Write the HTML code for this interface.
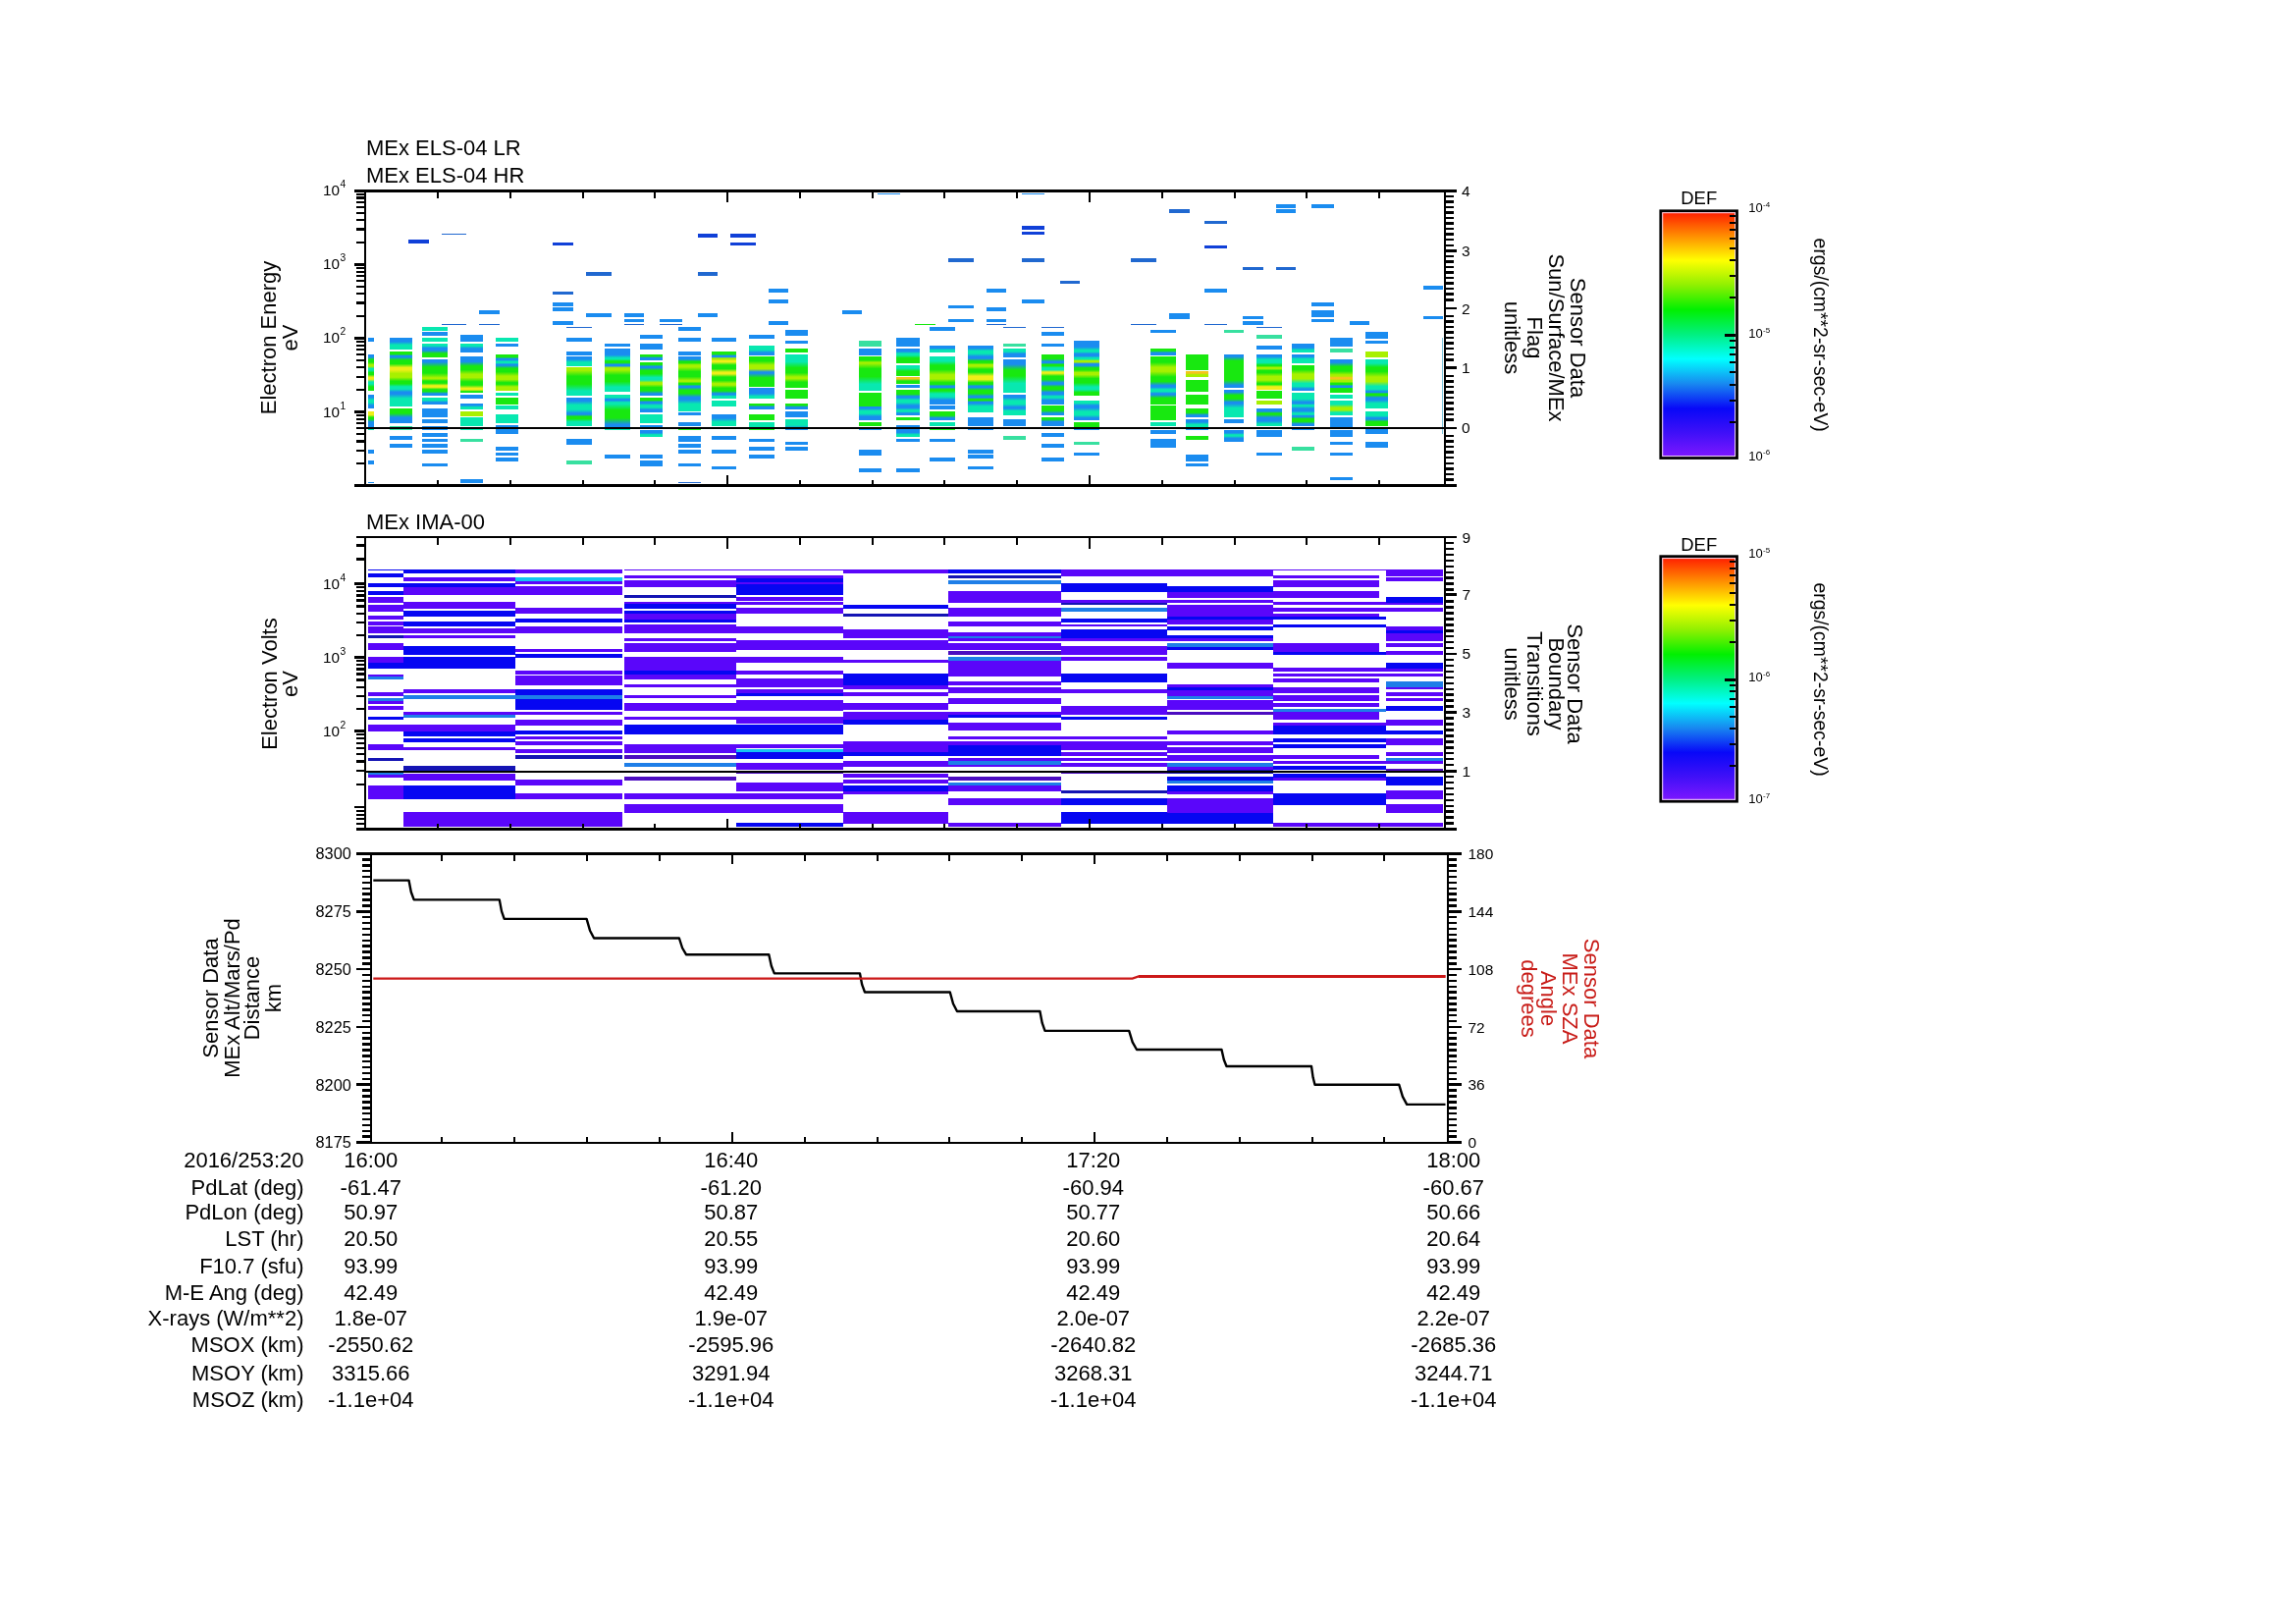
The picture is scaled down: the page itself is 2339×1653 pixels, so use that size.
<!DOCTYPE html>
<html><head><meta charset="utf-8"><title>MEx ELS / IMA summary plot</title>
<style>
html,body{margin:0;padding:0;background:#fff;}
body{width:2339px;height:1653px;overflow:hidden;font-family:"Liberation Sans", sans-serif;}
svg{display:block;}
</style></head><body>
<svg width="2339" height="1653" viewBox="0 0 2339 1653" font-family='"Liberation Sans", sans-serif'>
<defs>
<linearGradient id="cb" x1="0" y1="0" x2="0" y2="1">
<stop offset="0" stop-color="#ff1800"/>
<stop offset="0.10" stop-color="#ff8c00"/>
<stop offset="0.20" stop-color="#ffff00"/>
<stop offset="0.30" stop-color="#90f000"/>
<stop offset="0.40" stop-color="#00f000"/>
<stop offset="0.50" stop-color="#00f080"/>
<stop offset="0.60" stop-color="#00ffff"/>
<stop offset="0.70" stop-color="#1888f0"/>
<stop offset="0.80" stop-color="#0808f8"/>
<stop offset="0.90" stop-color="#4010f8"/>
<stop offset="1" stop-color="#8018ff"/>
</linearGradient>
<linearGradient id="g0" x1="0" y1="0" x2="0" y2="1"><stop offset="0.027" stop-color="#1a8cf0"/><stop offset="0.071" stop-color="#1a8cf0"/><stop offset="0.141" stop-color="#18e810"/><stop offset="0.209" stop-color="#18e810"/><stop offset="0.281" stop-color="#a8f000"/><stop offset="0.327" stop-color="#a8f000"/><stop offset="0.385" stop-color="#08e8b0"/><stop offset="0.430" stop-color="#08e8b0"/><stop offset="0.495" stop-color="#18e810"/><stop offset="0.552" stop-color="#18e810"/><stop offset="0.624" stop-color="#f0ee18"/><stop offset="0.680" stop-color="#f0ee18"/><stop offset="0.753" stop-color="#08e8b0"/><stop offset="0.809" stop-color="#08e8b0"/><stop offset="0.889" stop-color="#18e810"/><stop offset="0.957" stop-color="#18e810"/></linearGradient><linearGradient id="g1" x1="0" y1="0" x2="0" y2="1"><stop offset="0.075" stop-color="#1a8cf0"/><stop offset="0.192" stop-color="#1a8cf0"/><stop offset="0.379" stop-color="#08e8b0"/><stop offset="0.555" stop-color="#08e8b0"/><stop offset="0.760" stop-color="#1a8cf0"/><stop offset="0.907" stop-color="#1a8cf0"/></linearGradient><linearGradient id="g2" x1="0" y1="0" x2="0" y2="1"><stop offset="0.087" stop-color="#f0ee18"/><stop offset="0.225" stop-color="#f0ee18"/><stop offset="0.383" stop-color="#18e810"/><stop offset="0.493" stop-color="#18e810"/><stop offset="0.685" stop-color="#1a8cf0"/><stop offset="0.878" stop-color="#1a8cf0"/></linearGradient><linearGradient id="g3" x1="0" y1="0" x2="0" y2="1"><stop offset="0.135" stop-color="#1a8cf0"/><stop offset="0.348" stop-color="#1a8cf0"/><stop offset="0.628" stop-color="#08e8b0"/><stop offset="0.855" stop-color="#08e8b0"/></linearGradient><linearGradient id="g4" x1="0" y1="0" x2="0" y2="1"><stop offset="0.019" stop-color="#18e810"/><stop offset="0.049" stop-color="#18e810"/><stop offset="0.081" stop-color="#1a8cf0"/><stop offset="0.101" stop-color="#1a8cf0"/><stop offset="0.157" stop-color="#18e810"/><stop offset="0.225" stop-color="#18e810"/><stop offset="0.294" stop-color="#f0ee18"/><stop offset="0.335" stop-color="#f0ee18"/><stop offset="0.404" stop-color="#a8f000"/><stop offset="0.472" stop-color="#a8f000"/><stop offset="0.544" stop-color="#18e810"/><stop offset="0.590" stop-color="#18e810"/><stop offset="0.645" stop-color="#08e8b0"/><stop offset="0.688" stop-color="#08e8b0"/><stop offset="0.740" stop-color="#1a8cf0"/><stop offset="0.779" stop-color="#1a8cf0"/><stop offset="0.859" stop-color="#08e8b0"/><stop offset="0.945" stop-color="#08e8b0"/></linearGradient><linearGradient id="g5" x1="0" y1="0" x2="0" y2="1"><stop offset="0.135" stop-color="#18e810"/><stop offset="0.346" stop-color="#18e810"/><stop offset="0.626" stop-color="#1a8cf0"/><stop offset="0.855" stop-color="#1a8cf0"/></linearGradient><linearGradient id="g6" x1="0" y1="0" x2="0" y2="1"><stop offset="0.058" stop-color="#08e8b0"/><stop offset="0.150" stop-color="#08e8b0"/><stop offset="0.325" stop-color="#1a8cf0"/><stop offset="0.508" stop-color="#1a8cf0"/><stop offset="0.730" stop-color="#18e810"/><stop offset="0.895" stop-color="#18e810"/></linearGradient><linearGradient id="g7" x1="0" y1="0" x2="0" y2="1"><stop offset="0.030" stop-color="#1a8cf0"/><stop offset="0.078" stop-color="#1a8cf0"/><stop offset="0.215" stop-color="#18e810"/><stop offset="0.381" stop-color="#18e810"/><stop offset="0.507" stop-color="#a8f000"/><stop offset="0.539" stop-color="#a8f000"/><stop offset="0.599" stop-color="#18e810"/><stop offset="0.660" stop-color="#18e810"/><stop offset="0.727" stop-color="#f0ee18"/><stop offset="0.770" stop-color="#f0ee18"/><stop offset="0.834" stop-color="#18e810"/><stop offset="0.891" stop-color="#18e810"/><stop offset="0.948" stop-color="#1a8cf0"/><stop offset="0.980" stop-color="#1a8cf0"/></linearGradient><linearGradient id="g8" x1="0" y1="0" x2="0" y2="1"><stop offset="0.152" stop-color="#08e8b0"/><stop offset="0.391" stop-color="#08e8b0"/><stop offset="0.671" stop-color="#1a8cf0"/><stop offset="0.872" stop-color="#1a8cf0"/></linearGradient><linearGradient id="g9" x1="0" y1="0" x2="0" y2="1"><stop offset="0.101" stop-color="#08e8b0"/><stop offset="0.260" stop-color="#08e8b0"/><stop offset="0.540" stop-color="#1a8cf0"/><stop offset="0.821" stop-color="#1a8cf0"/></linearGradient><linearGradient id="g10" x1="0" y1="0" x2="0" y2="1"><stop offset="0.056" stop-color="#1a8cf0"/><stop offset="0.145" stop-color="#1a8cf0"/><stop offset="0.266" stop-color="#18e810"/><stop offset="0.368" stop-color="#18e810"/><stop offset="0.491" stop-color="#a8f000"/><stop offset="0.581" stop-color="#a8f000"/><stop offset="0.697" stop-color="#18e810"/><stop offset="0.788" stop-color="#18e810"/><stop offset="0.874" stop-color="#f0ee18"/><stop offset="0.920" stop-color="#f0ee18"/><stop offset="0.963" stop-color="#18e810"/><stop offset="0.986" stop-color="#18e810"/></linearGradient><linearGradient id="g11" x1="0" y1="0" x2="0" y2="1"><stop offset="0.127" stop-color="#1a8cf0"/><stop offset="0.327" stop-color="#1a8cf0"/><stop offset="0.607" stop-color="#08e8b0"/><stop offset="0.847" stop-color="#08e8b0"/></linearGradient><linearGradient id="g12" x1="0" y1="0" x2="0" y2="1"><stop offset="0.029" stop-color="#18e810"/><stop offset="0.074" stop-color="#18e810"/><stop offset="0.121" stop-color="#1a8cf0"/><stop offset="0.151" stop-color="#1a8cf0"/><stop offset="0.194" stop-color="#08e8b0"/><stop offset="0.232" stop-color="#08e8b0"/><stop offset="0.275" stop-color="#1a8cf0"/><stop offset="0.304" stop-color="#1a8cf0"/><stop offset="0.383" stop-color="#18e810"/><stop offset="0.478" stop-color="#18e810"/><stop offset="0.596" stop-color="#a8f000"/><stop offset="0.686" stop-color="#a8f000"/><stop offset="0.772" stop-color="#18e810"/><stop offset="0.817" stop-color="#18e810"/><stop offset="0.889" stop-color="#a8f000"/><stop offset="0.957" stop-color="#a8f000"/></linearGradient><linearGradient id="g13" x1="0" y1="0" x2="0" y2="1"><stop offset="0.114" stop-color="#1a8cf0"/><stop offset="0.293" stop-color="#1a8cf0"/><stop offset="0.573" stop-color="#08e8b0"/><stop offset="0.834" stop-color="#08e8b0"/></linearGradient><linearGradient id="g14" x1="0" y1="0" x2="0" y2="1"><stop offset="0.037" stop-color="#a8f000"/><stop offset="0.096" stop-color="#a8f000"/><stop offset="0.311" stop-color="#18e810"/><stop offset="0.589" stop-color="#18e810"/><stop offset="0.832" stop-color="#08e8b0"/><stop offset="0.935" stop-color="#08e8b0"/></linearGradient><linearGradient id="g15" x1="0" y1="0" x2="0" y2="1"><stop offset="0.045" stop-color="#1a8cf0"/><stop offset="0.116" stop-color="#1a8cf0"/><stop offset="0.261" stop-color="#08e8b0"/><stop offset="0.417" stop-color="#08e8b0"/><stop offset="0.543" stop-color="#1a8cf0"/><stop offset="0.586" stop-color="#1a8cf0"/><stop offset="0.658" stop-color="#18e810"/><stop offset="0.729" stop-color="#18e810"/><stop offset="0.837" stop-color="#08e8b0"/><stop offset="0.937" stop-color="#08e8b0"/></linearGradient><linearGradient id="g16" x1="0" y1="0" x2="0" y2="1"><stop offset="0.055" stop-color="#1a8cf0"/><stop offset="0.141" stop-color="#1a8cf0"/><stop offset="0.214" stop-color="#08e8b0"/><stop offset="0.243" stop-color="#08e8b0"/><stop offset="0.285" stop-color="#18e810"/><stop offset="0.323" stop-color="#18e810"/><stop offset="0.366" stop-color="#1a8cf0"/><stop offset="0.395" stop-color="#1a8cf0"/><stop offset="0.443" stop-color="#a8f000"/><stop offset="0.491" stop-color="#a8f000"/><stop offset="0.613" stop-color="#18e810"/><stop offset="0.757" stop-color="#18e810"/><stop offset="0.890" stop-color="#08e8b0"/><stop offset="0.957" stop-color="#08e8b0"/></linearGradient><linearGradient id="g17" x1="0" y1="0" x2="0" y2="1"><stop offset="0.032" stop-color="#08e8b0"/><stop offset="0.082" stop-color="#08e8b0"/><stop offset="0.138" stop-color="#1a8cf0"/><stop offset="0.176" stop-color="#1a8cf0"/><stop offset="0.232" stop-color="#08e8b0"/><stop offset="0.282" stop-color="#08e8b0"/><stop offset="0.469" stop-color="#18e810"/><stop offset="0.713" stop-color="#18e810"/><stop offset="0.905" stop-color="#1a8cf0"/><stop offset="0.963" stop-color="#1a8cf0"/></linearGradient><linearGradient id="g18" x1="0" y1="0" x2="0" y2="1"><stop offset="0.140" stop-color="#18e810"/><stop offset="0.360" stop-color="#18e810"/><stop offset="0.640" stop-color="#1a8cf0"/><stop offset="0.860" stop-color="#1a8cf0"/></linearGradient><linearGradient id="g19" x1="0" y1="0" x2="0" y2="1"><stop offset="0.028" stop-color="#18e810"/><stop offset="0.073" stop-color="#18e810"/><stop offset="0.125" stop-color="#1a8cf0"/><stop offset="0.162" stop-color="#1a8cf0"/><stop offset="0.248" stop-color="#18e810"/><stop offset="0.347" stop-color="#18e810"/><stop offset="0.457" stop-color="#08e8b0"/><stop offset="0.531" stop-color="#08e8b0"/><stop offset="0.610" stop-color="#a8f000"/><stop offset="0.660" stop-color="#a8f000"/><stop offset="0.754" stop-color="#18e810"/><stop offset="0.853" stop-color="#18e810"/><stop offset="0.939" stop-color="#1a8cf0"/><stop offset="0.976" stop-color="#1a8cf0"/></linearGradient><linearGradient id="g20" x1="0" y1="0" x2="0" y2="1"><stop offset="0.072" stop-color="#18e810"/><stop offset="0.185" stop-color="#18e810"/><stop offset="0.310" stop-color="#1a8cf0"/><stop offset="0.395" stop-color="#1a8cf0"/><stop offset="0.538" stop-color="#08e8b0"/><stop offset="0.679" stop-color="#08e8b0"/><stop offset="0.834" stop-color="#1a8cf0"/><stop offset="0.935" stop-color="#1a8cf0"/></linearGradient><linearGradient id="g21" x1="0" y1="0" x2="0" y2="1"><stop offset="0.160" stop-color="#1a8cf0"/><stop offset="0.411" stop-color="#1a8cf0"/><stop offset="0.691" stop-color="#08e8b0"/><stop offset="0.880" stop-color="#08e8b0"/></linearGradient><linearGradient id="g22" x1="0" y1="0" x2="0" y2="1"><stop offset="0.021" stop-color="#1a8cf0"/><stop offset="0.054" stop-color="#1a8cf0"/><stop offset="0.091" stop-color="#18e810"/><stop offset="0.116" stop-color="#18e810"/><stop offset="0.156" stop-color="#a8f000"/><stop offset="0.194" stop-color="#a8f000"/><stop offset="0.275" stop-color="#18e810"/><stop offset="0.365" stop-color="#18e810"/><stop offset="0.436" stop-color="#a8f000"/><stop offset="0.459" stop-color="#a8f000"/><stop offset="0.487" stop-color="#18e810"/><stop offset="0.510" stop-color="#18e810"/><stop offset="0.538" stop-color="#1a8cf0"/><stop offset="0.561" stop-color="#1a8cf0"/><stop offset="0.613" stop-color="#18e810"/><stop offset="0.673" stop-color="#18e810"/><stop offset="0.739" stop-color="#1a8cf0"/><stop offset="0.784" stop-color="#1a8cf0"/><stop offset="0.865" stop-color="#08e8b0"/><stop offset="0.948" stop-color="#08e8b0"/></linearGradient><linearGradient id="g23" x1="0" y1="0" x2="0" y2="1"><stop offset="0.022" stop-color="#18e810"/><stop offset="0.058" stop-color="#18e810"/><stop offset="0.093" stop-color="#1a8cf0"/><stop offset="0.115" stop-color="#1a8cf0"/><stop offset="0.143" stop-color="#a8f000"/><stop offset="0.165" stop-color="#a8f000"/><stop offset="0.197" stop-color="#f0ee18"/><stop offset="0.223" stop-color="#f0ee18"/><stop offset="0.290" stop-color="#18e810"/><stop offset="0.370" stop-color="#18e810"/><stop offset="0.442" stop-color="#f0ee18"/><stop offset="0.478" stop-color="#f0ee18"/><stop offset="0.545" stop-color="#18e810"/><stop offset="0.615" stop-color="#18e810"/><stop offset="0.682" stop-color="#a8f000"/><stop offset="0.718" stop-color="#a8f000"/><stop offset="0.779" stop-color="#18e810"/><stop offset="0.841" stop-color="#18e810"/><stop offset="0.897" stop-color="#1a8cf0"/><stop offset="0.923" stop-color="#1a8cf0"/><stop offset="0.957" stop-color="#08e8b0"/><stop offset="0.983" stop-color="#08e8b0"/></linearGradient><linearGradient id="g24" x1="0" y1="0" x2="0" y2="1"><stop offset="0.129" stop-color="#1a8cf0"/><stop offset="0.332" stop-color="#1a8cf0"/><stop offset="0.612" stop-color="#08e8b0"/><stop offset="0.849" stop-color="#08e8b0"/></linearGradient><linearGradient id="g25" x1="0" y1="0" x2="0" y2="1"><stop offset="0.172" stop-color="#08e8b0"/><stop offset="0.443" stop-color="#08e8b0"/><stop offset="0.723" stop-color="#1a8cf0"/><stop offset="0.892" stop-color="#1a8cf0"/></linearGradient><linearGradient id="g26" x1="0" y1="0" x2="0" y2="1"><stop offset="0.058" stop-color="#18e810"/><stop offset="0.149" stop-color="#18e810"/><stop offset="0.284" stop-color="#a8f000"/><stop offset="0.405" stop-color="#a8f000"/><stop offset="0.507" stop-color="#1a8cf0"/><stop offset="0.548" stop-color="#1a8cf0"/><stop offset="0.693" stop-color="#18e810"/><stop offset="0.880" stop-color="#18e810"/></linearGradient><linearGradient id="g27" x1="0" y1="0" x2="0" y2="1"><stop offset="0.204" stop-color="#1a8cf0"/><stop offset="0.524" stop-color="#1a8cf0"/><stop offset="0.804" stop-color="#08e8b0"/><stop offset="0.924" stop-color="#08e8b0"/></linearGradient><linearGradient id="g28" x1="0" y1="0" x2="0" y2="1"><stop offset="0.117" stop-color="#18e810"/><stop offset="0.302" stop-color="#18e810"/><stop offset="0.582" stop-color="#1a8cf0"/><stop offset="0.837" stop-color="#1a8cf0"/></linearGradient><linearGradient id="g29" x1="0" y1="0" x2="0" y2="1"><stop offset="0.215" stop-color="#08e8b0"/><stop offset="0.553" stop-color="#08e8b0"/><stop offset="0.833" stop-color="#18e810"/><stop offset="0.935" stop-color="#18e810"/></linearGradient><linearGradient id="g30" x1="0" y1="0" x2="0" y2="1"><stop offset="0.086" stop-color="#08e8b0"/><stop offset="0.220" stop-color="#08e8b0"/><stop offset="0.399" stop-color="#18e810"/><stop offset="0.546" stop-color="#18e810"/><stop offset="0.670" stop-color="#a8f000"/><stop offset="0.719" stop-color="#a8f000"/><stop offset="0.820" stop-color="#18e810"/><stop offset="0.930" stop-color="#18e810"/></linearGradient><linearGradient id="g31" x1="0" y1="0" x2="0" y2="1"><stop offset="0.135" stop-color="#18e810"/><stop offset="0.348" stop-color="#18e810"/><stop offset="0.628" stop-color="#1a8cf0"/><stop offset="0.855" stop-color="#1a8cf0"/></linearGradient><linearGradient id="g32" x1="0" y1="0" x2="0" y2="1"><stop offset="0.210" stop-color="#08e8b0"/><stop offset="0.540" stop-color="#08e8b0"/><stop offset="0.820" stop-color="#1a8cf0"/><stop offset="0.930" stop-color="#1a8cf0"/></linearGradient><linearGradient id="g33" x1="0" y1="0" x2="0" y2="1"><stop offset="0.044" stop-color="#18e810"/><stop offset="0.113" stop-color="#18e810"/><stop offset="0.173" stop-color="#a8f000"/><stop offset="0.197" stop-color="#a8f000"/><stop offset="0.357" stop-color="#18e810"/><stop offset="0.584" stop-color="#18e810"/><stop offset="0.804" stop-color="#08e8b0"/><stop offset="0.924" stop-color="#08e8b0"/></linearGradient><linearGradient id="g34" x1="0" y1="0" x2="0" y2="1"><stop offset="0.061" stop-color="#1a8cf0"/><stop offset="0.158" stop-color="#1a8cf0"/><stop offset="0.342" stop-color="#08e8b0"/><stop offset="0.535" stop-color="#08e8b0"/><stop offset="0.753" stop-color="#1a8cf0"/><stop offset="0.904" stop-color="#1a8cf0"/></linearGradient><linearGradient id="g35" x1="0" y1="0" x2="0" y2="1"><stop offset="0.075" stop-color="#1a8cf0"/><stop offset="0.192" stop-color="#1a8cf0"/><stop offset="0.341" stop-color="#08e8b0"/><stop offset="0.459" stop-color="#08e8b0"/><stop offset="0.664" stop-color="#18e810"/><stop offset="0.869" stop-color="#18e810"/></linearGradient><linearGradient id="g36" x1="0" y1="0" x2="0" y2="1"><stop offset="0.111" stop-color="#08e8b0"/><stop offset="0.286" stop-color="#08e8b0"/><stop offset="0.566" stop-color="#18e810"/><stop offset="0.831" stop-color="#18e810"/></linearGradient><linearGradient id="g37" x1="0" y1="0" x2="0" y2="1"><stop offset="0.105" stop-color="#f4c41c"/><stop offset="0.270" stop-color="#f4c41c"/><stop offset="0.550" stop-color="#18e810"/><stop offset="0.825" stop-color="#18e810"/></linearGradient><linearGradient id="g38" x1="0" y1="0" x2="0" y2="1"><stop offset="0.063" stop-color="#18e810"/><stop offset="0.162" stop-color="#18e810"/><stop offset="0.257" stop-color="#1a8cf0"/><stop offset="0.307" stop-color="#1a8cf0"/><stop offset="0.402" stop-color="#08e8b0"/><stop offset="0.501" stop-color="#08e8b0"/><stop offset="0.623" stop-color="#1a8cf0"/><stop offset="0.715" stop-color="#1a8cf0"/><stop offset="0.810" stop-color="#08e8b0"/><stop offset="0.866" stop-color="#08e8b0"/><stop offset="0.930" stop-color="#1a8cf0"/><stop offset="0.973" stop-color="#1a8cf0"/></linearGradient><linearGradient id="g39" x1="0" y1="0" x2="0" y2="1"><stop offset="0.187" stop-color="#1a8cf0"/><stop offset="0.480" stop-color="#1a8cf0"/><stop offset="0.760" stop-color="#08e8b0"/><stop offset="0.907" stop-color="#08e8b0"/></linearGradient><linearGradient id="g40" x1="0" y1="0" x2="0" y2="1"><stop offset="0.151" stop-color="#1a8cf0"/><stop offset="0.389" stop-color="#1a8cf0"/><stop offset="0.669" stop-color="#08e8b0"/><stop offset="0.871" stop-color="#08e8b0"/></linearGradient><linearGradient id="g41" x1="0" y1="0" x2="0" y2="1"><stop offset="0.037" stop-color="#08e8b0"/><stop offset="0.096" stop-color="#08e8b0"/><stop offset="0.187" stop-color="#18e810"/><stop offset="0.273" stop-color="#18e810"/><stop offset="0.383" stop-color="#a8f000"/><stop offset="0.469" stop-color="#a8f000"/><stop offset="0.545" stop-color="#18e810"/><stop offset="0.580" stop-color="#18e810"/><stop offset="0.618" stop-color="#1a8cf0"/><stop offset="0.644" stop-color="#1a8cf0"/><stop offset="0.682" stop-color="#18e810"/><stop offset="0.716" stop-color="#18e810"/><stop offset="0.777" stop-color="#08e8b0"/><stop offset="0.837" stop-color="#08e8b0"/><stop offset="0.910" stop-color="#1a8cf0"/><stop offset="0.965" stop-color="#1a8cf0"/></linearGradient><linearGradient id="g42" x1="0" y1="0" x2="0" y2="1"><stop offset="0.191" stop-color="#18e810"/><stop offset="0.490" stop-color="#18e810"/><stop offset="0.770" stop-color="#1a8cf0"/><stop offset="0.911" stop-color="#1a8cf0"/></linearGradient><linearGradient id="g43" x1="0" y1="0" x2="0" y2="1"><stop offset="0.016" stop-color="#1a8cf0"/><stop offset="0.041" stop-color="#1a8cf0"/><stop offset="0.082" stop-color="#08e8b0"/><stop offset="0.121" stop-color="#08e8b0"/><stop offset="0.166" stop-color="#1a8cf0"/><stop offset="0.197" stop-color="#1a8cf0"/><stop offset="0.233" stop-color="#18e810"/><stop offset="0.257" stop-color="#18e810"/><stop offset="0.289" stop-color="#a8f000"/><stop offset="0.314" stop-color="#a8f000"/><stop offset="0.357" stop-color="#18e810"/><stop offset="0.401" stop-color="#18e810"/><stop offset="0.460" stop-color="#f0ee18"/><stop offset="0.509" stop-color="#f0ee18"/><stop offset="0.557" stop-color="#18e810"/><stop offset="0.581" stop-color="#18e810"/><stop offset="0.609" stop-color="#1a8cf0"/><stop offset="0.628" stop-color="#1a8cf0"/><stop offset="0.671" stop-color="#18e810"/><stop offset="0.721" stop-color="#18e810"/><stop offset="0.764" stop-color="#1a8cf0"/><stop offset="0.783" stop-color="#1a8cf0"/><stop offset="0.806" stop-color="#18e810"/><stop offset="0.825" stop-color="#18e810"/><stop offset="0.848" stop-color="#1a8cf0"/><stop offset="0.867" stop-color="#1a8cf0"/><stop offset="0.913" stop-color="#08e8b0"/><stop offset="0.966" stop-color="#08e8b0"/></linearGradient><linearGradient id="g44" x1="0" y1="0" x2="0" y2="1"><stop offset="0.124" stop-color="#08e8b0"/><stop offset="0.320" stop-color="#08e8b0"/><stop offset="0.600" stop-color="#1a8cf0"/><stop offset="0.844" stop-color="#1a8cf0"/></linearGradient><linearGradient id="g45" x1="0" y1="0" x2="0" y2="1"><stop offset="0.057" stop-color="#1a8cf0"/><stop offset="0.146" stop-color="#1a8cf0"/><stop offset="0.316" stop-color="#18e810"/><stop offset="0.493" stop-color="#18e810"/><stop offset="0.717" stop-color="#08e8b0"/><stop offset="0.890" stop-color="#08e8b0"/></linearGradient><linearGradient id="g46" x1="0" y1="0" x2="0" y2="1"><stop offset="0.052" stop-color="#1a8cf0"/><stop offset="0.133" stop-color="#1a8cf0"/><stop offset="0.294" stop-color="#08e8b0"/><stop offset="0.465" stop-color="#08e8b0"/><stop offset="0.616" stop-color="#1a8cf0"/><stop offset="0.681" stop-color="#1a8cf0"/><stop offset="0.800" stop-color="#08e8b0"/><stop offset="0.922" stop-color="#08e8b0"/></linearGradient><linearGradient id="g47" x1="0" y1="0" x2="0" y2="1"><stop offset="0.035" stop-color="#18e810"/><stop offset="0.089" stop-color="#18e810"/><stop offset="0.141" stop-color="#1a8cf0"/><stop offset="0.169" stop-color="#1a8cf0"/><stop offset="0.203" stop-color="#18e810"/><stop offset="0.228" stop-color="#18e810"/><stop offset="0.270" stop-color="#08e8b0"/><stop offset="0.311" stop-color="#08e8b0"/><stop offset="0.353" stop-color="#f0ee18"/><stop offset="0.378" stop-color="#f0ee18"/><stop offset="0.435" stop-color="#18e810"/><stop offset="0.501" stop-color="#18e810"/><stop offset="0.564" stop-color="#1a8cf0"/><stop offset="0.597" stop-color="#1a8cf0"/><stop offset="0.649" stop-color="#18e810"/><stop offset="0.699" stop-color="#18e810"/><stop offset="0.757" stop-color="#1a8cf0"/><stop offset="0.798" stop-color="#1a8cf0"/><stop offset="0.840" stop-color="#08e8b0"/><stop offset="0.864" stop-color="#08e8b0"/><stop offset="0.914" stop-color="#1a8cf0"/><stop offset="0.966" stop-color="#1a8cf0"/></linearGradient><linearGradient id="g48" x1="0" y1="0" x2="0" y2="1"><stop offset="0.201" stop-color="#18e810"/><stop offset="0.516" stop-color="#18e810"/><stop offset="0.796" stop-color="#1a8cf0"/><stop offset="0.921" stop-color="#1a8cf0"/></linearGradient><linearGradient id="g49" x1="0" y1="0" x2="0" y2="1"><stop offset="0.089" stop-color="#18e810"/><stop offset="0.230" stop-color="#18e810"/><stop offset="0.510" stop-color="#1a8cf0"/><stop offset="0.809" stop-color="#1a8cf0"/></linearGradient><linearGradient id="g50" x1="0" y1="0" x2="0" y2="1"><stop offset="0.044" stop-color="#1a8cf0"/><stop offset="0.113" stop-color="#1a8cf0"/><stop offset="0.173" stop-color="#08e8b0"/><stop offset="0.199" stop-color="#08e8b0"/><stop offset="0.239" stop-color="#1a8cf0"/><stop offset="0.276" stop-color="#1a8cf0"/><stop offset="0.315" stop-color="#08e8b0"/><stop offset="0.337" stop-color="#08e8b0"/><stop offset="0.366" stop-color="#a8f000"/><stop offset="0.388" stop-color="#a8f000"/><stop offset="0.422" stop-color="#1a8cf0"/><stop offset="0.452" stop-color="#1a8cf0"/><stop offset="0.495" stop-color="#18e810"/><stop offset="0.532" stop-color="#18e810"/><stop offset="0.580" stop-color="#a8f000"/><stop offset="0.618" stop-color="#a8f000"/><stop offset="0.689" stop-color="#18e810"/><stop offset="0.765" stop-color="#18e810"/><stop offset="0.841" stop-color="#08e8b0"/><stop offset="0.886" stop-color="#08e8b0"/><stop offset="0.939" stop-color="#18e810"/><stop offset="0.976" stop-color="#18e810"/></linearGradient><linearGradient id="g51" x1="0" y1="0" x2="0" y2="1"><stop offset="0.053" stop-color="#08e8b0"/><stop offset="0.137" stop-color="#08e8b0"/><stop offset="0.265" stop-color="#1a8cf0"/><stop offset="0.382" stop-color="#1a8cf0"/><stop offset="0.569" stop-color="#08e8b0"/><stop offset="0.745" stop-color="#08e8b0"/><stop offset="0.897" stop-color="#1a8cf0"/><stop offset="0.960" stop-color="#1a8cf0"/></linearGradient><linearGradient id="g52" x1="0" y1="0" x2="0" y2="1"><stop offset="0.120" stop-color="#18e810"/><stop offset="0.309" stop-color="#18e810"/><stop offset="0.589" stop-color="#1a8cf0"/><stop offset="0.840" stop-color="#1a8cf0"/></linearGradient><linearGradient id="g53" x1="0" y1="0" x2="0" y2="1"><stop offset="0.049" stop-color="#18e810"/><stop offset="0.125" stop-color="#18e810"/><stop offset="0.228" stop-color="#a8f000"/><stop offset="0.315" stop-color="#a8f000"/><stop offset="0.431" stop-color="#18e810"/><stop offset="0.526" stop-color="#18e810"/><stop offset="0.609" stop-color="#1a8cf0"/><stop offset="0.643" stop-color="#1a8cf0"/><stop offset="0.693" stop-color="#08e8b0"/><stop offset="0.736" stop-color="#08e8b0"/><stop offset="0.780" stop-color="#1a8cf0"/><stop offset="0.806" stop-color="#1a8cf0"/><stop offset="0.872" stop-color="#18e810"/><stop offset="0.950" stop-color="#18e810"/></linearGradient><linearGradient id="g54" x1="0" y1="0" x2="0" y2="1"><stop offset="0.149" stop-color="#f4c41c"/><stop offset="0.383" stop-color="#f4c41c"/><stop offset="0.663" stop-color="#a8f000"/><stop offset="0.869" stop-color="#a8f000"/></linearGradient><linearGradient id="g55" x1="0" y1="0" x2="0" y2="1"><stop offset="0.191" stop-color="#18e810"/><stop offset="0.490" stop-color="#18e810"/><stop offset="0.770" stop-color="#1a8cf0"/><stop offset="0.911" stop-color="#1a8cf0"/></linearGradient><linearGradient id="g56" x1="0" y1="0" x2="0" y2="1"><stop offset="0.130" stop-color="#1a8cf0"/><stop offset="0.335" stop-color="#1a8cf0"/><stop offset="0.615" stop-color="#08e8b0"/><stop offset="0.850" stop-color="#08e8b0"/></linearGradient><linearGradient id="g57" x1="0" y1="0" x2="0" y2="1"><stop offset="0.027" stop-color="#1a8cf0"/><stop offset="0.069" stop-color="#1a8cf0"/><stop offset="0.196" stop-color="#18e810"/><stop offset="0.352" stop-color="#18e810"/><stop offset="0.579" stop-color="#18e810"/><stop offset="0.777" stop-color="#18e810"/><stop offset="0.931" stop-color="#1a8cf0"/><stop offset="0.973" stop-color="#1a8cf0"/></linearGradient><linearGradient id="g58" x1="0" y1="0" x2="0" y2="1"><stop offset="0.029" stop-color="#1a8cf0"/><stop offset="0.074" stop-color="#1a8cf0"/><stop offset="0.190" stop-color="#18e810"/><stop offset="0.327" stop-color="#18e810"/><stop offset="0.447" stop-color="#1a8cf0"/><stop offset="0.498" stop-color="#1a8cf0"/><stop offset="0.662" stop-color="#08e8b0"/><stop offset="0.869" stop-color="#08e8b0"/></linearGradient><linearGradient id="g59" x1="0" y1="0" x2="0" y2="1"><stop offset="0.093" stop-color="#1a8cf0"/><stop offset="0.240" stop-color="#1a8cf0"/><stop offset="0.403" stop-color="#08e8b0"/><stop offset="0.513" stop-color="#08e8b0"/><stop offset="0.700" stop-color="#1a8cf0"/><stop offset="0.883" stop-color="#1a8cf0"/></linearGradient><linearGradient id="g60" x1="0" y1="0" x2="0" y2="1"><stop offset="0.025" stop-color="#1a8cf0"/><stop offset="0.064" stop-color="#1a8cf0"/><stop offset="0.145" stop-color="#08e8b0"/><stop offset="0.233" stop-color="#08e8b0"/><stop offset="0.304" stop-color="#18e810"/><stop offset="0.327" stop-color="#18e810"/><stop offset="0.364" stop-color="#a8f000"/><stop offset="0.399" stop-color="#a8f000"/><stop offset="0.458" stop-color="#18e810"/><stop offset="0.516" stop-color="#18e810"/><stop offset="0.619" stop-color="#a8f000"/><stop offset="0.723" stop-color="#a8f000"/><stop offset="0.812" stop-color="#18e810"/><stop offset="0.846" stop-color="#18e810"/><stop offset="0.905" stop-color="#f0ee18"/><stop offset="0.963" stop-color="#f0ee18"/></linearGradient><linearGradient id="g61" x1="0" y1="0" x2="0" y2="1"><stop offset="0.066" stop-color="#1a8cf0"/><stop offset="0.169" stop-color="#1a8cf0"/><stop offset="0.279" stop-color="#18e810"/><stop offset="0.349" stop-color="#18e810"/><stop offset="0.519" stop-color="#1a8cf0"/><stop offset="0.715" stop-color="#1a8cf0"/><stop offset="0.885" stop-color="#08e8b0"/><stop offset="0.955" stop-color="#08e8b0"/></linearGradient><linearGradient id="g62" x1="0" y1="0" x2="0" y2="1"><stop offset="0.179" stop-color="#1a8cf0"/><stop offset="0.460" stop-color="#1a8cf0"/><stop offset="0.740" stop-color="#08e8b0"/><stop offset="0.899" stop-color="#08e8b0"/></linearGradient><linearGradient id="g63" x1="0" y1="0" x2="0" y2="1"><stop offset="0.106" stop-color="#1a8cf0"/><stop offset="0.272" stop-color="#1a8cf0"/><stop offset="0.552" stop-color="#08e8b0"/><stop offset="0.826" stop-color="#08e8b0"/></linearGradient><linearGradient id="g64" x1="0" y1="0" x2="0" y2="1"><stop offset="0.068" stop-color="#18e810"/><stop offset="0.175" stop-color="#18e810"/><stop offset="0.356" stop-color="#a8f000"/><stop offset="0.534" stop-color="#a8f000"/><stop offset="0.719" stop-color="#08e8b0"/><stop offset="0.832" stop-color="#08e8b0"/><stop offset="0.931" stop-color="#1a8cf0"/><stop offset="0.973" stop-color="#1a8cf0"/></linearGradient><linearGradient id="g65" x1="0" y1="0" x2="0" y2="1"><stop offset="0.071" stop-color="#08e8b0"/><stop offset="0.183" stop-color="#08e8b0"/><stop offset="0.281" stop-color="#1a8cf0"/><stop offset="0.323" stop-color="#1a8cf0"/><stop offset="0.371" stop-color="#08e8b0"/><stop offset="0.403" stop-color="#08e8b0"/><stop offset="0.471" stop-color="#1a8cf0"/><stop offset="0.546" stop-color="#1a8cf0"/><stop offset="0.617" stop-color="#08e8b0"/><stop offset="0.654" stop-color="#08e8b0"/><stop offset="0.694" stop-color="#1a8cf0"/><stop offset="0.719" stop-color="#1a8cf0"/><stop offset="0.785" stop-color="#18e810"/><stop offset="0.865" stop-color="#18e810"/><stop offset="0.939" stop-color="#1a8cf0"/><stop offset="0.976" stop-color="#1a8cf0"/></linearGradient><linearGradient id="g66" x1="0" y1="0" x2="0" y2="1"><stop offset="0.043" stop-color="#1a8cf0"/><stop offset="0.110" stop-color="#1a8cf0"/><stop offset="0.256" stop-color="#18e810"/><stop offset="0.417" stop-color="#18e810"/><stop offset="0.548" stop-color="#a8f000"/><stop offset="0.592" stop-color="#a8f000"/><stop offset="0.648" stop-color="#f4c41c"/><stop offset="0.692" stop-color="#f4c41c"/><stop offset="0.748" stop-color="#a8f000"/><stop offset="0.792" stop-color="#a8f000"/><stop offset="0.848" stop-color="#18e810"/><stop offset="0.892" stop-color="#18e810"/><stop offset="0.942" stop-color="#1a8cf0"/><stop offset="0.978" stop-color="#1a8cf0"/></linearGradient><linearGradient id="g67" x1="0" y1="0" x2="0" y2="1"><stop offset="0.108" stop-color="#08e8b0"/><stop offset="0.277" stop-color="#08e8b0"/><stop offset="0.492" stop-color="#a8f000"/><stop offset="0.662" stop-color="#a8f000"/><stop offset="0.834" stop-color="#08e8b0"/><stop offset="0.935" stop-color="#08e8b0"/></linearGradient><linearGradient id="g68" x1="0" y1="0" x2="0" y2="1"><stop offset="0.030" stop-color="#08e8b0"/><stop offset="0.077" stop-color="#08e8b0"/><stop offset="0.160" stop-color="#18e810"/><stop offset="0.243" stop-color="#18e810"/><stop offset="0.355" stop-color="#a8f000"/><stop offset="0.447" stop-color="#a8f000"/><stop offset="0.543" stop-color="#08e8b0"/><stop offset="0.602" stop-color="#08e8b0"/><stop offset="0.649" stop-color="#1a8cf0"/><stop offset="0.666" stop-color="#1a8cf0"/><stop offset="0.696" stop-color="#18e810"/><stop offset="0.726" stop-color="#18e810"/><stop offset="0.774" stop-color="#1a8cf0"/><stop offset="0.819" stop-color="#1a8cf0"/><stop offset="0.890" stop-color="#08e8b0"/><stop offset="0.957" stop-color="#08e8b0"/></linearGradient><linearGradient id="g69" x1="0" y1="0" x2="0" y2="1"><stop offset="0.109" stop-color="#08e8b0"/><stop offset="0.281" stop-color="#08e8b0"/><stop offset="0.444" stop-color="#1a8cf0"/><stop offset="0.530" stop-color="#1a8cf0"/><stop offset="0.701" stop-color="#18e810"/><stop offset="0.884" stop-color="#18e810"/></linearGradient>
</defs>
<rect width="2339" height="1653" fill="#fff"/>
<g shape-rendering="crispEdges">
<rect x="375.3" y="343.9" width="5.7" height="3.8" fill="#1a8cf0"/>
<rect x="375.3" y="361.1" width="5.7" height="37.0" fill="url(#g0)"/>
<rect x="375.3" y="402.0" width="5.7" height="14.3" fill="url(#g1)"/>
<rect x="375.3" y="419.2" width="5.7" height="15.3" fill="url(#g2)"/>
<rect x="375.3" y="436.3" width="5.7" height="1.9" fill="#08e8b0"/>
<rect x="375.3" y="457.9" width="5.7" height="3.6" fill="#1a8cf0"/>
<rect x="375.3" y="468.8" width="5.7" height="3.8" fill="#1a8cf0"/>
<rect x="375.3" y="490.8" width="5.7" height="1.0" fill="#1a8cf0"/>
<rect x="396.9" y="343.9" width="22.9" height="11.8" fill="url(#g3)"/>
<rect x="396.9" y="358.0" width="22.9" height="55.6" fill="url(#g4)"/>
<rect x="396.9" y="415.9" width="22.9" height="14.7" fill="url(#g5)"/>
<rect x="396.9" y="433.5" width="22.9" height="4.8" fill="#38e0a0"/>
<rect x="396.9" y="444.0" width="22.9" height="3.8" fill="#1a8cf0"/>
<rect x="396.9" y="452.0" width="22.9" height="3.8" fill="#1a8cf0"/>
<rect x="430.1" y="332.8" width="25.8" height="3.8" fill="#08e8b0"/>
<rect x="430.1" y="338.0" width="25.8" height="3.8" fill="#1a8cf0"/>
<rect x="430.1" y="343.9" width="25.8" height="3.8" fill="#08e8b0"/>
<rect x="430.1" y="350.0" width="25.8" height="13.7" fill="url(#g6)"/>
<rect x="430.1" y="365.9" width="25.8" height="36.9" fill="url(#g7)"/>
<rect x="430.1" y="405.2" width="25.8" height="6.7" fill="url(#g8)"/>
<rect x="430.1" y="415.9" width="25.8" height="9.0" fill="#1a8cf0"/>
<rect x="430.1" y="427.2" width="25.8" height="3.4" fill="#1a8cf0"/>
<rect x="430.1" y="433.5" width="25.8" height="4.8" fill="#1a8cf0"/>
<rect x="430.1" y="441.1" width="25.8" height="3.8" fill="#1a8cf0"/>
<rect x="430.1" y="446.8" width="25.8" height="3.2" fill="#1a8cf0"/>
<rect x="430.1" y="452.0" width="25.8" height="3.8" fill="#1a8cf0"/>
<rect x="430.1" y="457.9" width="25.8" height="3.8" fill="#1a8cf0"/>
<rect x="430.1" y="471.7" width="25.8" height="3.2" fill="#1a8cf0"/>
<rect x="469.0" y="341.0" width="22.9" height="6.7" fill="#1a8cf0"/>
<rect x="469.0" y="350.0" width="22.9" height="9.0" fill="url(#g9)"/>
<rect x="469.0" y="363.0" width="22.9" height="37.0" fill="url(#g10)"/>
<rect x="469.0" y="402.0" width="22.9" height="3.8" fill="#1a8cf0"/>
<rect x="469.0" y="410.9" width="22.9" height="6.3" fill="url(#g11)"/>
<rect x="469.0" y="418.6" width="22.9" height="5.3" fill="#a8f000"/>
<rect x="469.0" y="424.9" width="22.9" height="9.5" fill="#08e8b0"/>
<rect x="469.0" y="436.3" width="22.9" height="1.9" fill="#08e8b0"/>
<rect x="469.0" y="446.8" width="22.9" height="2.9" fill="#38e0a0"/>
<rect x="469.0" y="487.9" width="22.9" height="3.8" fill="#1a8cf0"/>
<rect x="504.9" y="343.9" width="23.1" height="3.8" fill="#08e8b0"/>
<rect x="504.9" y="350.0" width="23.1" height="2.9" fill="#1a8cf0"/>
<rect x="504.9" y="360.9" width="23.1" height="37.2" fill="url(#g12)"/>
<rect x="504.9" y="400.1" width="23.1" height="2.9" fill="#08e8b0"/>
<rect x="504.9" y="404.8" width="23.1" height="6.7" fill="#18e810"/>
<rect x="504.9" y="412.5" width="23.1" height="4.4" fill="#08e8b0"/>
<rect x="504.9" y="422.0" width="23.1" height="9.0" fill="#08e8b0"/>
<rect x="504.9" y="432.9" width="23.1" height="8.8" fill="#1a8cf0"/>
<rect x="504.9" y="454.9" width="23.1" height="3.8" fill="#1a8cf0"/>
<rect x="504.9" y="460.8" width="23.1" height="2.9" fill="#1a8cf0"/>
<rect x="504.9" y="465.9" width="23.1" height="3.8" fill="#1a8cf0"/>
<rect x="416.0" y="244.0" width="21.0" height="3.8" fill="#1040d8"/>
<rect x="450.1" y="238.1" width="24.8" height="0.6" fill="#2068d0"/>
<rect x="450.1" y="330.0" width="24.8" height="0.8" fill="#2068d0"/>
<rect x="487.9" y="316.0" width="21.0" height="3.8" fill="#1a8cf0"/>
<rect x="487.9" y="330.0" width="21.0" height="0.8" fill="#2068d0"/>
<rect x="563.0" y="246.7" width="21.0" height="2.9" fill="#1040d8"/>
<rect x="563.0" y="296.9" width="21.0" height="2.9" fill="#2068d0"/>
<rect x="563.0" y="308.0" width="21.0" height="3.8" fill="#1a8cf0"/>
<rect x="563.0" y="313.2" width="21.0" height="3.4" fill="#1a8cf0"/>
<rect x="563.0" y="326.9" width="21.0" height="4.0" fill="#1a8cf0"/>
<rect x="597.2" y="276.9" width="26.0" height="3.8" fill="#2068d0"/>
<rect x="597.2" y="319.1" width="26.0" height="3.6" fill="#1a8cf0"/>
<rect x="636.3" y="319.1" width="19.7" height="3.6" fill="#1a8cf0"/>
<rect x="636.3" y="325.0" width="19.7" height="2.9" fill="#1a8cf0"/>
<rect x="636.3" y="330.0" width="19.7" height="0.8" fill="#2068d0"/>
<rect x="577.1" y="332.8" width="26.0" height="0.8" fill="#2068d0"/>
<rect x="577.1" y="343.9" width="26.0" height="3.8" fill="#1a8cf0"/>
<rect x="577.1" y="358.0" width="26.0" height="3.8" fill="#1a8cf0"/>
<rect x="577.1" y="363.0" width="26.0" height="10.3" fill="url(#g13)"/>
<rect x="577.1" y="374.3" width="26.0" height="28.6" fill="url(#g14)"/>
<rect x="577.1" y="404.8" width="26.0" height="29.6" fill="url(#g15)"/>
<rect x="577.1" y="446.8" width="26.0" height="5.7" fill="#1a8cf0"/>
<rect x="577.1" y="468.8" width="26.0" height="3.8" fill="#38e0a0"/>
<rect x="616.1" y="350.0" width="25.8" height="2.9" fill="#1a8cf0"/>
<rect x="616.1" y="355.2" width="25.8" height="43.9" fill="url(#g16)"/>
<rect x="616.1" y="402.0" width="25.8" height="33.4" fill="url(#g17)"/>
<rect x="616.1" y="436.3" width="25.8" height="1.9" fill="#08e8b0"/>
<rect x="616.1" y="463.1" width="25.8" height="3.8" fill="#1a8cf0"/>
<rect x="652.0" y="341.0" width="22.9" height="3.6" fill="#1a8cf0"/>
<rect x="652.0" y="350.0" width="22.9" height="5.7" fill="#1a8cf0"/>
<rect x="652.0" y="360.9" width="22.9" height="5.7" fill="url(#g18)"/>
<rect x="652.0" y="368.9" width="22.9" height="34.0" fill="url(#g19)"/>
<rect x="652.0" y="404.8" width="22.9" height="14.9" fill="url(#g20)"/>
<rect x="652.0" y="422.0" width="22.9" height="9.0" fill="#08e8b0"/>
<rect x="652.0" y="432.9" width="22.9" height="2.5" fill="#1a8cf0"/>
<rect x="652.0" y="438.2" width="22.9" height="6.7" fill="url(#g21)"/>
<rect x="652.0" y="463.1" width="22.9" height="3.8" fill="#1a8cf0"/>
<rect x="652.0" y="468.8" width="22.9" height="6.1" fill="#1a8cf0"/>
<rect x="672.1" y="325.0" width="22.9" height="2.9" fill="#1a8cf0"/>
<rect x="672.1" y="330.0" width="22.9" height="0.8" fill="#2068d0"/>
<rect x="691.0" y="332.8" width="22.9" height="3.8" fill="#1a8cf0"/>
<rect x="691.0" y="343.9" width="22.9" height="3.8" fill="#1a8cf0"/>
<rect x="691.0" y="358.0" width="22.9" height="3.8" fill="#1a8cf0"/>
<rect x="691.0" y="363.0" width="22.9" height="56.1" fill="url(#g22)"/>
<rect x="691.0" y="420.1" width="22.9" height="2.9" fill="#1a8cf0"/>
<rect x="691.0" y="430.0" width="22.9" height="4.4" fill="#1a8cf0"/>
<rect x="691.0" y="436.3" width="22.9" height="1.9" fill="#18e810"/>
<rect x="691.0" y="444.0" width="22.9" height="5.7" fill="#1a8cf0"/>
<rect x="691.0" y="452.0" width="22.9" height="3.8" fill="#1a8cf0"/>
<rect x="691.0" y="457.9" width="22.9" height="3.8" fill="#1a8cf0"/>
<rect x="691.0" y="471.7" width="22.9" height="3.2" fill="#1a8cf0"/>
<rect x="691.0" y="491.1" width="22.9" height="0.6" fill="#2068d0"/>
<rect x="711.0" y="238.3" width="20.1" height="3.6" fill="#1040d8"/>
<rect x="711.0" y="276.9" width="20.1" height="3.8" fill="#2068d0"/>
<rect x="711.0" y="319.1" width="20.1" height="3.6" fill="#1a8cf0"/>
<rect x="725.0" y="343.9" width="25.0" height="3.8" fill="#1a8cf0"/>
<rect x="725.0" y="358.0" width="25.0" height="47.7" fill="url(#g23)"/>
<rect x="725.0" y="407.7" width="25.0" height="6.1" fill="#08e8b0"/>
<rect x="725.0" y="422.0" width="25.0" height="12.4" fill="url(#g24)"/>
<rect x="725.0" y="444.0" width="25.0" height="3.8" fill="#1a8cf0"/>
<rect x="725.0" y="457.9" width="25.0" height="3.8" fill="#1a8cf0"/>
<rect x="725.0" y="474.9" width="25.0" height="2.9" fill="#1a8cf0"/>
<rect x="744.1" y="238.3" width="25.8" height="3.6" fill="#1040d8"/>
<rect x="744.1" y="246.7" width="25.8" height="3.1" fill="#1040d8"/>
<rect x="763.0" y="341.0" width="26.0" height="3.6" fill="#1a8cf0"/>
<rect x="763.0" y="351.9" width="26.0" height="9.9" fill="url(#g25)"/>
<rect x="763.0" y="363.0" width="26.0" height="31.3" fill="url(#g26)"/>
<rect x="763.0" y="395.3" width="26.0" height="10.5" fill="url(#g27)"/>
<rect x="763.0" y="410.9" width="26.0" height="5.9" fill="url(#g28)"/>
<rect x="763.0" y="422.0" width="26.0" height="5.7" fill="#18e810"/>
<rect x="763.0" y="430.0" width="26.0" height="8.2" fill="url(#g29)"/>
<rect x="763.0" y="446.8" width="26.0" height="2.9" fill="#1a8cf0"/>
<rect x="763.0" y="454.9" width="26.0" height="3.8" fill="#1a8cf0"/>
<rect x="763.0" y="463.1" width="26.0" height="3.8" fill="#1a8cf0"/>
<rect x="783.2" y="294.1" width="19.7" height="3.4" fill="#1a8cf0"/>
<rect x="783.2" y="305.1" width="19.7" height="3.6" fill="#1a8cf0"/>
<rect x="783.2" y="326.9" width="19.7" height="4.0" fill="#1a8cf0"/>
<rect x="800.0" y="336.1" width="22.9" height="5.7" fill="#1a8cf0"/>
<rect x="800.0" y="347.0" width="22.9" height="2.7" fill="#1a8cf0"/>
<rect x="800.0" y="355.2" width="22.9" height="3.8" fill="#18e810"/>
<rect x="800.0" y="360.9" width="22.9" height="34.4" fill="url(#g30)"/>
<rect x="800.0" y="397.2" width="22.9" height="8.6" fill="#18e810"/>
<rect x="800.0" y="410.9" width="22.9" height="5.9" fill="url(#g31)"/>
<rect x="800.0" y="419.2" width="22.9" height="5.7" fill="#1a8cf0"/>
<rect x="800.0" y="426.8" width="22.9" height="11.5" fill="url(#g32)"/>
<rect x="800.0" y="449.7" width="22.9" height="3.2" fill="#1a8cf0"/>
<rect x="800.0" y="454.9" width="22.9" height="3.8" fill="#1a8cf0"/>
<rect x="858.1" y="316.0" width="20.1" height="3.8" fill="#1a8cf0"/>
<rect x="874.9" y="347.0" width="23.3" height="5.9" fill="#38e0a0"/>
<rect x="874.9" y="355.2" width="23.3" height="6.7" fill="#1a8cf0"/>
<rect x="874.9" y="363.0" width="23.3" height="35.1" fill="url(#g33)"/>
<rect x="874.9" y="400.1" width="23.3" height="13.4" fill="#18e810"/>
<rect x="874.9" y="413.8" width="23.3" height="13.9" fill="url(#g34)"/>
<rect x="874.9" y="430.0" width="23.3" height="3.8" fill="#18e810"/>
<rect x="874.9" y="436.3" width="23.3" height="1.9" fill="#1a8cf0"/>
<rect x="874.9" y="457.9" width="23.3" height="5.7" fill="#1a8cf0"/>
<rect x="874.9" y="477.0" width="23.3" height="3.6" fill="#1a8cf0"/>
<rect x="894.0" y="197.3" width="23.3" height="0.6" fill="#1a8cf0"/>
<rect x="913.1" y="343.9" width="24.1" height="9.0" fill="#1a8cf0"/>
<rect x="913.1" y="355.2" width="24.1" height="14.3" fill="url(#g35)"/>
<rect x="913.1" y="371.8" width="24.1" height="11.1" fill="url(#g36)"/>
<rect x="913.1" y="383.8" width="24.1" height="7.6" fill="url(#g37)"/>
<rect x="913.1" y="392.4" width="24.1" height="2.3" fill="#1a8cf0"/>
<rect x="913.1" y="397.2" width="24.1" height="25.4" fill="url(#g38)"/>
<rect x="913.1" y="424.9" width="24.1" height="2.9" fill="#18e810"/>
<rect x="913.1" y="432.9" width="24.1" height="2.5" fill="#1a8cf0"/>
<rect x="913.1" y="436.3" width="24.1" height="8.6" fill="url(#g39)"/>
<rect x="913.1" y="446.8" width="24.1" height="2.9" fill="#1a8cf0"/>
<rect x="913.1" y="477.0" width="24.1" height="3.6" fill="#1a8cf0"/>
<rect x="932.0" y="330.0" width="21.4" height="0.8" fill="#18e810"/>
<rect x="947.1" y="332.8" width="25.8" height="3.8" fill="#1a8cf0"/>
<rect x="947.1" y="351.9" width="25.8" height="7.1" fill="url(#g40)"/>
<rect x="947.1" y="363.0" width="25.8" height="48.9" fill="url(#g41)"/>
<rect x="947.1" y="412.9" width="25.8" height="4.0" fill="#1a8cf0"/>
<rect x="947.1" y="418.8" width="25.8" height="9.0" fill="url(#g42)"/>
<rect x="947.1" y="430.0" width="25.8" height="3.8" fill="#08e8b0"/>
<rect x="947.1" y="436.3" width="25.8" height="1.9" fill="#18e810"/>
<rect x="947.1" y="446.8" width="25.8" height="2.9" fill="#1a8cf0"/>
<rect x="947.1" y="465.9" width="25.8" height="3.8" fill="#1a8cf0"/>
<rect x="966.2" y="262.9" width="25.8" height="3.8" fill="#2068d0"/>
<rect x="966.2" y="310.9" width="25.8" height="2.9" fill="#1a8cf0"/>
<rect x="966.2" y="325.0" width="25.8" height="2.9" fill="#1a8cf0"/>
<rect x="986.1" y="351.9" width="26.0" height="67.8" fill="url(#g43)"/>
<rect x="986.1" y="424.9" width="26.0" height="9.5" fill="#1a8cf0"/>
<rect x="986.1" y="436.3" width="26.0" height="1.9" fill="#1a8cf0"/>
<rect x="986.1" y="457.9" width="26.0" height="3.8" fill="#1a8cf0"/>
<rect x="986.1" y="463.1" width="26.0" height="3.8" fill="#1a8cf0"/>
<rect x="986.1" y="474.9" width="26.0" height="2.9" fill="#1a8cf0"/>
<rect x="1005.0" y="294.1" width="20.1" height="3.4" fill="#1a8cf0"/>
<rect x="1005.0" y="313.2" width="20.1" height="3.4" fill="#1a8cf0"/>
<rect x="1005.0" y="325.0" width="20.1" height="2.9" fill="#1a8cf0"/>
<rect x="1005.0" y="330.0" width="20.1" height="0.8" fill="#2068d0"/>
<rect x="1022.0" y="332.8" width="23.1" height="0.8" fill="#2068d0"/>
<rect x="1022.0" y="350.0" width="23.1" height="2.9" fill="#38e0a0"/>
<rect x="1022.0" y="355.2" width="23.1" height="8.6" fill="url(#g44)"/>
<rect x="1022.0" y="366.1" width="23.1" height="34.0" fill="url(#g45)"/>
<rect x="1022.0" y="402.0" width="23.1" height="20.6" fill="url(#g46)"/>
<rect x="1022.0" y="426.8" width="23.1" height="7.6" fill="#1a8cf0"/>
<rect x="1022.0" y="444.0" width="23.1" height="3.8" fill="#38e0a0"/>
<rect x="1040.9" y="197.3" width="23.3" height="0.6" fill="#1a8cf0"/>
<rect x="1040.9" y="230.1" width="23.3" height="3.8" fill="#1040d8"/>
<rect x="1040.9" y="235.8" width="23.3" height="2.9" fill="#1040d8"/>
<rect x="1040.9" y="262.9" width="23.3" height="3.8" fill="#2068d0"/>
<rect x="1040.9" y="305.1" width="23.3" height="3.6" fill="#1a8cf0"/>
<rect x="1060.9" y="332.8" width="23.1" height="0.8" fill="#2068d0"/>
<rect x="1060.9" y="338.0" width="23.1" height="3.8" fill="#1a8cf0"/>
<rect x="1060.9" y="350.0" width="23.1" height="2.9" fill="#1a8cf0"/>
<rect x="1060.9" y="360.9" width="23.1" height="51.0" fill="url(#g47)"/>
<rect x="1060.9" y="412.9" width="23.1" height="10.1" fill="url(#g48)"/>
<rect x="1060.9" y="424.9" width="23.1" height="9.0" fill="url(#g49)"/>
<rect x="1060.9" y="441.1" width="23.1" height="3.8" fill="#1a8cf0"/>
<rect x="1060.9" y="452.0" width="23.1" height="3.8" fill="#1a8cf0"/>
<rect x="1060.9" y="465.9" width="23.1" height="3.8" fill="#1a8cf0"/>
<rect x="1080.0" y="286.1" width="20.1" height="2.9" fill="#2068d0"/>
<rect x="1094.0" y="347.0" width="26.0" height="56.0" fill="url(#g50)"/>
<rect x="1094.0" y="407.7" width="26.0" height="20.1" fill="url(#g51)"/>
<rect x="1094.0" y="430.0" width="26.0" height="5.3" fill="#18e810"/>
<rect x="1094.0" y="436.3" width="26.0" height="1.9" fill="#1a8cf0"/>
<rect x="1094.0" y="449.7" width="26.0" height="3.2" fill="#38e0a0"/>
<rect x="1094.0" y="460.8" width="26.0" height="2.9" fill="#1a8cf0"/>
<rect x="1152.0" y="262.9" width="25.8" height="3.8" fill="#2068d0"/>
<rect x="1152.0" y="330.0" width="25.8" height="0.8" fill="#2068d0"/>
<rect x="1172.1" y="336.1" width="25.8" height="2.9" fill="#1a8cf0"/>
<rect x="1172.1" y="355.2" width="25.8" height="6.7" fill="url(#g52)"/>
<rect x="1172.1" y="363.0" width="25.8" height="48.5" fill="url(#g53)"/>
<rect x="1172.1" y="412.9" width="25.8" height="14.9" fill="#18e810"/>
<rect x="1172.1" y="430.0" width="25.8" height="3.8" fill="#08e8b0"/>
<rect x="1172.1" y="438.2" width="25.8" height="3.4" fill="#1a8cf0"/>
<rect x="1172.1" y="446.8" width="25.8" height="9.0" fill="#1a8cf0"/>
<rect x="1191.2" y="212.9" width="21.0" height="3.8" fill="#2068d0"/>
<rect x="1191.2" y="319.1" width="21.0" height="5.5" fill="#1a8cf0"/>
<rect x="1208.0" y="360.9" width="22.9" height="16.2" fill="#18e810"/>
<rect x="1208.0" y="377.7" width="22.9" height="6.1" fill="url(#g54)"/>
<rect x="1208.0" y="386.7" width="22.9" height="12.4" fill="#18e810"/>
<rect x="1208.0" y="402.0" width="22.9" height="9.5" fill="#18e810"/>
<rect x="1208.0" y="415.9" width="22.9" height="9.0" fill="url(#g55)"/>
<rect x="1208.0" y="427.2" width="22.9" height="8.2" fill="url(#g56)"/>
<rect x="1208.0" y="436.3" width="22.9" height="1.9" fill="#1a8cf0"/>
<rect x="1208.0" y="444.0" width="22.9" height="3.8" fill="#18e810"/>
<rect x="1208.0" y="463.1" width="22.9" height="6.7" fill="#1a8cf0"/>
<rect x="1208.0" y="471.7" width="22.9" height="2.9" fill="#1a8cf0"/>
<rect x="1227.1" y="224.9" width="22.9" height="2.9" fill="#2068d0"/>
<rect x="1227.1" y="250.2" width="22.9" height="2.5" fill="#1040d8"/>
<rect x="1227.1" y="294.1" width="22.9" height="3.4" fill="#1a8cf0"/>
<rect x="1227.1" y="330.0" width="22.9" height="0.8" fill="#2068d0"/>
<rect x="1247.2" y="336.1" width="19.9" height="2.9" fill="#38e0a0"/>
<rect x="1247.2" y="360.9" width="19.9" height="33.8" fill="url(#g57)"/>
<rect x="1247.2" y="397.2" width="19.9" height="27.7" fill="url(#g58)"/>
<rect x="1247.2" y="427.2" width="19.9" height="3.4" fill="#1a8cf0"/>
<rect x="1247.2" y="438.2" width="19.9" height="11.5" fill="url(#g59)"/>
<rect x="1266.1" y="272.1" width="21.0" height="2.9" fill="#2068d0"/>
<rect x="1266.1" y="322.1" width="21.0" height="2.5" fill="#1a8cf0"/>
<rect x="1266.1" y="326.9" width="21.0" height="4.0" fill="#1a8cf0"/>
<rect x="1280.0" y="332.8" width="26.0" height="0.8" fill="#2068d0"/>
<rect x="1280.0" y="341.0" width="26.0" height="3.6" fill="#38e0a0"/>
<rect x="1280.0" y="351.9" width="26.0" height="3.8" fill="#1a8cf0"/>
<rect x="1280.0" y="360.9" width="26.0" height="36.3" fill="url(#g60)"/>
<rect x="1280.0" y="398.1" width="26.0" height="7.6" fill="#18e810"/>
<rect x="1280.0" y="407.7" width="26.0" height="3.8" fill="#a8f000"/>
<rect x="1280.0" y="415.9" width="26.0" height="18.0" fill="url(#g61)"/>
<rect x="1280.0" y="438.2" width="26.0" height="6.7" fill="#1a8cf0"/>
<rect x="1280.0" y="460.8" width="26.0" height="2.9" fill="#1a8cf0"/>
<rect x="1300.1" y="208.1" width="20.1" height="3.4" fill="#1a8cf0"/>
<rect x="1300.1" y="212.9" width="20.1" height="3.8" fill="#1a8cf0"/>
<rect x="1300.1" y="272.1" width="20.1" height="2.9" fill="#2068d0"/>
<rect x="1316.1" y="350.0" width="22.9" height="9.0" fill="url(#g62)"/>
<rect x="1316.1" y="360.9" width="22.9" height="8.6" fill="url(#g63)"/>
<rect x="1316.1" y="371.8" width="22.9" height="26.0" fill="url(#g64)"/>
<rect x="1316.1" y="400.1" width="22.9" height="33.8" fill="url(#g65)"/>
<rect x="1316.1" y="436.3" width="22.9" height="1.9" fill="#1a8cf0"/>
<rect x="1316.1" y="454.9" width="22.9" height="3.8" fill="#38e0a0"/>
<rect x="1336.0" y="208.1" width="22.9" height="3.4" fill="#1a8cf0"/>
<rect x="1336.0" y="308.0" width="22.9" height="3.8" fill="#1a8cf0"/>
<rect x="1336.0" y="316.0" width="22.9" height="6.7" fill="#1a8cf0"/>
<rect x="1336.0" y="325.0" width="22.9" height="2.9" fill="#1a8cf0"/>
<rect x="1355.1" y="343.9" width="22.9" height="9.0" fill="#1a8cf0"/>
<rect x="1355.1" y="355.2" width="22.9" height="3.8" fill="#38e0a0"/>
<rect x="1355.1" y="366.1" width="22.9" height="28.6" fill="url(#g66)"/>
<rect x="1355.1" y="395.3" width="22.9" height="4.8" fill="#18e810"/>
<rect x="1355.1" y="402.0" width="22.9" height="3.8" fill="#08e8b0"/>
<rect x="1355.1" y="407.7" width="22.9" height="14.9" fill="url(#g67)"/>
<rect x="1355.1" y="424.9" width="22.9" height="10.5" fill="#1a8cf0"/>
<rect x="1355.1" y="438.2" width="22.9" height="6.7" fill="#1a8cf0"/>
<rect x="1355.1" y="449.7" width="22.9" height="3.2" fill="#1a8cf0"/>
<rect x="1355.1" y="460.8" width="22.9" height="2.9" fill="#1a8cf0"/>
<rect x="1355.1" y="486.0" width="22.9" height="2.5" fill="#1a8cf0"/>
<rect x="1375.1" y="326.9" width="19.7" height="4.0" fill="#1a8cf0"/>
<rect x="1391.0" y="338.0" width="22.9" height="6.7" fill="#1a8cf0"/>
<rect x="1391.0" y="347.0" width="22.9" height="2.7" fill="#1a8cf0"/>
<rect x="1391.0" y="358.0" width="22.9" height="5.7" fill="#a8f000"/>
<rect x="1391.0" y="366.1" width="22.9" height="50.2" fill="url(#g68)"/>
<rect x="1391.0" y="419.2" width="22.9" height="14.7" fill="url(#g69)"/>
<rect x="1391.0" y="436.3" width="22.9" height="5.3" fill="#1a8cf0"/>
<rect x="1391.0" y="449.7" width="22.9" height="6.1" fill="#1a8cf0"/>
<rect x="1450.2" y="291.2" width="20.1" height="3.4" fill="#1a8cf0"/>
<rect x="1450.2" y="322.1" width="20.1" height="2.5" fill="#1a8cf0"/>
<rect x="1469.2" y="344.0" width="1.0" height="98.0" fill="#7cc4dc"/>
<rect x="375.3" y="579.7" width="36.1" height="1.0" fill="#0606f2"/>
<rect x="375.3" y="583.5" width="36.1" height="4.8" fill="#0606f2"/>
<rect x="375.3" y="594.0" width="36.1" height="3.8" fill="#0606f2"/>
<rect x="375.3" y="602.1" width="36.1" height="3.4" fill="#0606f2"/>
<rect x="375.3" y="608.2" width="36.1" height="5.3" fill="#5a06fa"/>
<rect x="375.3" y="616.4" width="36.1" height="6.1" fill="#5a06fa"/>
<rect x="375.3" y="627.3" width="36.1" height="3.4" fill="#5a06fa"/>
<rect x="375.3" y="633.0" width="36.1" height="3.8" fill="#5a06fa"/>
<rect x="375.3" y="638.0" width="36.1" height="6.7" fill="#5a06fa"/>
<rect x="375.3" y="646.9" width="36.1" height="2.9" fill="#1414b4"/>
<rect x="375.3" y="655.1" width="36.1" height="6.5" fill="#5a06fa"/>
<rect x="375.3" y="669.3" width="36.1" height="5.3" fill="#5a06fa"/>
<rect x="375.3" y="674.6" width="36.1" height="6.1" fill="#0606f2"/>
<rect x="375.3" y="686.5" width="36.1" height="2.5" fill="#5a06fa"/>
<rect x="375.3" y="688.9" width="36.1" height="2.9" fill="#1e7ee8"/>
<rect x="375.3" y="705.2" width="36.1" height="3.4" fill="#5a06fa"/>
<rect x="375.3" y="711.3" width="36.1" height="2.5" fill="#1e7ee8"/>
<rect x="375.3" y="713.8" width="36.1" height="2.9" fill="#5a06fa"/>
<rect x="375.3" y="718.9" width="36.1" height="3.8" fill="#5a06fa"/>
<rect x="375.3" y="730.0" width="36.1" height="3.4" fill="#0606f2"/>
<rect x="375.3" y="738.2" width="36.1" height="6.5" fill="#5a06fa"/>
<rect x="375.3" y="758.1" width="36.1" height="5.7" fill="#5a06fa"/>
<rect x="375.3" y="772.0" width="36.1" height="2.5" fill="#1414b4"/>
<rect x="375.3" y="786.9" width="36.1" height="2.3" fill="#1e7ee8"/>
<rect x="375.3" y="789.2" width="36.1" height="2.5" fill="#5a06fa"/>
<rect x="375.3" y="800.1" width="36.1" height="13.6" fill="#5a06fa"/>
<rect x="411.4" y="580.1" width="113.4" height="3.8" fill="#0606f2"/>
<rect x="411.4" y="588.3" width="113.4" height="3.6" fill="#5a06fa"/>
<rect x="411.4" y="594.0" width="113.4" height="3.8" fill="#0606f2"/>
<rect x="411.4" y="597.9" width="113.4" height="8.0" fill="#5a06fa"/>
<rect x="411.4" y="613.1" width="113.4" height="6.7" fill="#5a06fa"/>
<rect x="411.4" y="622.1" width="113.4" height="5.7" fill="#0606f2"/>
<rect x="411.4" y="633.0" width="113.4" height="5.3" fill="#0606f2"/>
<rect x="411.4" y="640.3" width="113.4" height="4.4" fill="#5a06fa"/>
<rect x="411.4" y="646.9" width="113.4" height="2.9" fill="#5a06fa"/>
<rect x="411.4" y="658.0" width="113.4" height="8.6" fill="#0606f2"/>
<rect x="411.4" y="669.3" width="113.4" height="11.5" fill="#0606f2"/>
<rect x="411.4" y="701.9" width="113.4" height="3.8" fill="#5a06fa"/>
<rect x="411.4" y="708.0" width="113.4" height="3.8" fill="#1e7ee8"/>
<rect x="411.4" y="724.8" width="113.4" height="3.2" fill="#5a06fa"/>
<rect x="411.4" y="728.1" width="113.4" height="2.9" fill="#1e7ee8"/>
<rect x="411.4" y="738.2" width="113.4" height="6.5" fill="#5a06fa"/>
<rect x="411.4" y="744.7" width="113.4" height="5.0" fill="#0606f2"/>
<rect x="411.4" y="752.0" width="113.4" height="3.8" fill="#0606f2"/>
<rect x="411.4" y="760.9" width="113.4" height="2.9" fill="#5a06fa"/>
<rect x="411.4" y="780.0" width="113.4" height="5.3" fill="#1414b4"/>
<rect x="411.4" y="787.9" width="113.4" height="7.1" fill="#5a06fa"/>
<rect x="411.4" y="800.1" width="113.4" height="13.6" fill="#0606f2"/>
<rect x="411.4" y="827.0" width="113.4" height="14.7" fill="#5a06fa"/>
<rect x="524.8" y="580.1" width="109.2" height="3.8" fill="#5a06fa"/>
<rect x="524.8" y="588.3" width="109.2" height="3.6" fill="#14c4f2"/>
<rect x="524.8" y="591.9" width="109.2" height="2.9" fill="#5a06fa"/>
<rect x="524.8" y="597.3" width="109.2" height="8.6" fill="#5a06fa"/>
<rect x="524.8" y="619.2" width="109.2" height="5.3" fill="#5a06fa"/>
<rect x="524.8" y="630.1" width="109.2" height="3.4" fill="#0606f2"/>
<rect x="524.8" y="638.0" width="109.2" height="6.7" fill="#5a06fa"/>
<rect x="524.8" y="660.9" width="109.2" height="2.9" fill="#5a06fa"/>
<rect x="524.8" y="666.0" width="109.2" height="3.8" fill="#0606f2"/>
<rect x="524.8" y="683.2" width="109.2" height="3.4" fill="#5a06fa"/>
<rect x="524.8" y="688.0" width="109.2" height="9.7" fill="#5a06fa"/>
<rect x="524.8" y="701.9" width="109.2" height="6.1" fill="#0606f2"/>
<rect x="524.8" y="708.0" width="109.2" height="3.8" fill="#1e7ee8"/>
<rect x="524.8" y="711.9" width="109.2" height="11.1" fill="#0606f2"/>
<rect x="524.8" y="724.8" width="109.2" height="2.9" fill="#5a06fa"/>
<rect x="524.8" y="733.3" width="109.2" height="5.3" fill="#5a06fa"/>
<rect x="524.8" y="743.9" width="109.2" height="3.8" fill="#0606f2"/>
<rect x="524.8" y="749.7" width="109.2" height="3.2" fill="#5a06fa"/>
<rect x="524.8" y="754.8" width="109.2" height="3.8" fill="#5a06fa"/>
<rect x="524.8" y="762.9" width="109.2" height="4.0" fill="#5a06fa"/>
<rect x="524.8" y="769.2" width="109.2" height="3.4" fill="#1414b4"/>
<rect x="524.8" y="794.0" width="109.2" height="5.7" fill="#5a06fa"/>
<rect x="524.8" y="807.9" width="109.2" height="5.7" fill="#5a06fa"/>
<rect x="524.8" y="827.0" width="109.2" height="14.7" fill="#5a06fa"/>
<rect x="636.1" y="579.7" width="113.8" height="1.0" fill="#5a06fa"/>
<rect x="636.1" y="585.8" width="113.8" height="2.9" fill="#5a06fa"/>
<rect x="636.1" y="591.2" width="113.8" height="6.7" fill="#5a06fa"/>
<rect x="636.1" y="605.5" width="113.8" height="3.2" fill="#1414b4"/>
<rect x="636.1" y="613.1" width="113.8" height="2.3" fill="#5a06fa"/>
<rect x="636.1" y="615.4" width="113.8" height="4.4" fill="#0606f2"/>
<rect x="636.1" y="622.1" width="113.8" height="2.9" fill="#0606f2"/>
<rect x="636.1" y="625.0" width="113.8" height="5.7" fill="#5a06fa"/>
<rect x="636.1" y="630.7" width="113.8" height="2.9" fill="#0606f2"/>
<rect x="636.1" y="636.1" width="113.8" height="8.6" fill="#5a06fa"/>
<rect x="636.1" y="649.8" width="113.8" height="2.9" fill="#5a06fa"/>
<rect x="636.1" y="655.1" width="113.8" height="8.6" fill="#5a06fa"/>
<rect x="636.1" y="669.3" width="113.8" height="13.9" fill="#5a06fa"/>
<rect x="636.1" y="683.2" width="113.8" height="3.4" fill="#0606f2"/>
<rect x="636.1" y="686.7" width="113.8" height="5.2" fill="#5a06fa"/>
<rect x="636.1" y="697.0" width="113.8" height="2.7" fill="#5a06fa"/>
<rect x="636.1" y="708.0" width="113.8" height="3.4" fill="#5a06fa"/>
<rect x="636.1" y="716.1" width="113.8" height="8.2" fill="#5a06fa"/>
<rect x="636.1" y="730.0" width="113.8" height="3.4" fill="#5a06fa"/>
<rect x="636.1" y="738.2" width="113.8" height="9.5" fill="#0606f2"/>
<rect x="636.1" y="758.1" width="113.8" height="8.8" fill="#5a06fa"/>
<rect x="636.1" y="769.2" width="113.8" height="3.4" fill="#4c0cc0"/>
<rect x="636.1" y="777.2" width="113.8" height="3.4" fill="#1e7ee8"/>
<rect x="636.1" y="791.1" width="113.8" height="3.4" fill="#4c0cc0"/>
<rect x="636.1" y="807.9" width="113.8" height="5.7" fill="#5a06fa"/>
<rect x="636.1" y="818.8" width="113.8" height="9.0" fill="#5a06fa"/>
<rect x="749.9" y="579.7" width="108.7" height="1.0" fill="#5a06fa"/>
<rect x="749.9" y="585.8" width="108.7" height="2.9" fill="#5a06fa"/>
<rect x="749.9" y="588.7" width="108.7" height="3.8" fill="#0606f2"/>
<rect x="749.9" y="592.5" width="108.7" height="2.9" fill="#5a06fa"/>
<rect x="749.9" y="595.4" width="108.7" height="10.1" fill="#0606f2"/>
<rect x="749.9" y="608.2" width="108.7" height="3.4" fill="#5a06fa"/>
<rect x="749.9" y="613.1" width="108.7" height="3.2" fill="#5a06fa"/>
<rect x="749.9" y="619.2" width="108.7" height="5.3" fill="#5a06fa"/>
<rect x="749.9" y="638.0" width="108.7" height="6.7" fill="#5a06fa"/>
<rect x="749.9" y="652.1" width="108.7" height="9.5" fill="#5a06fa"/>
<rect x="749.9" y="669.3" width="108.7" height="5.3" fill="#5a06fa"/>
<rect x="749.9" y="683.2" width="108.7" height="3.4" fill="#5a06fa"/>
<rect x="749.9" y="691.0" width="108.7" height="8.6" fill="#5a06fa"/>
<rect x="749.9" y="701.9" width="108.7" height="4.2" fill="#5a06fa"/>
<rect x="749.9" y="706.1" width="108.7" height="2.9" fill="#0606f2"/>
<rect x="749.9" y="713.0" width="108.7" height="11.3" fill="#5a06fa"/>
<rect x="749.9" y="730.0" width="108.7" height="6.7" fill="#5a06fa"/>
<rect x="749.9" y="738.2" width="108.7" height="9.5" fill="#0606f2"/>
<rect x="749.9" y="758.1" width="108.7" height="3.4" fill="#5a06fa"/>
<rect x="749.9" y="762.5" width="108.7" height="3.8" fill="#14c4f2"/>
<rect x="749.9" y="766.3" width="108.7" height="6.3" fill="#0606f2"/>
<rect x="749.9" y="777.2" width="108.7" height="6.7" fill="#5a06fa"/>
<rect x="749.9" y="786.3" width="108.7" height="1.9" fill="#4c0cc0"/>
<rect x="749.9" y="796.8" width="108.7" height="9.0" fill="#5a06fa"/>
<rect x="749.9" y="807.9" width="108.7" height="5.7" fill="#5a06fa"/>
<rect x="749.9" y="818.8" width="108.7" height="9.0" fill="#5a06fa"/>
<rect x="749.9" y="837.9" width="108.7" height="3.8" fill="#0606f2"/>
<rect x="858.6" y="580.1" width="107.7" height="3.8" fill="#5a06fa"/>
<rect x="858.6" y="616.4" width="107.7" height="3.4" fill="#0606f2"/>
<rect x="858.6" y="625.0" width="107.7" height="2.5" fill="#1414b4"/>
<rect x="858.6" y="641.2" width="107.7" height="8.6" fill="#5a06fa"/>
<rect x="858.6" y="652.1" width="107.7" height="9.5" fill="#5a06fa"/>
<rect x="858.6" y="671.8" width="107.7" height="2.9" fill="#5a06fa"/>
<rect x="858.6" y="686.1" width="107.7" height="11.6" fill="#0606f2"/>
<rect x="858.6" y="697.7" width="107.7" height="4.6" fill="#5a06fa"/>
<rect x="858.6" y="705.2" width="107.7" height="3.4" fill="#5a06fa"/>
<rect x="858.6" y="716.1" width="107.7" height="6.7" fill="#5a06fa"/>
<rect x="858.6" y="724.8" width="107.7" height="8.0" fill="#5a06fa"/>
<rect x="858.6" y="732.9" width="107.7" height="5.3" fill="#0606f2"/>
<rect x="858.6" y="754.8" width="107.7" height="11.5" fill="#5a06fa"/>
<rect x="858.6" y="766.3" width="107.7" height="3.4" fill="#0606f2"/>
<rect x="858.6" y="774.9" width="107.7" height="5.7" fill="#5a06fa"/>
<rect x="858.6" y="787.9" width="107.7" height="3.8" fill="#5a06fa"/>
<rect x="858.6" y="794.0" width="107.7" height="3.8" fill="#5a06fa"/>
<rect x="858.6" y="799.7" width="107.7" height="6.1" fill="#0606f2"/>
<rect x="858.6" y="805.8" width="107.7" height="2.9" fill="#5a06fa"/>
<rect x="858.6" y="827.0" width="107.7" height="11.5" fill="#5a06fa"/>
<rect x="966.3" y="580.1" width="114.2" height="3.8" fill="#0606f2"/>
<rect x="966.3" y="585.8" width="114.2" height="2.9" fill="#1414b4"/>
<rect x="966.3" y="591.2" width="114.2" height="3.6" fill="#1e7ee8"/>
<rect x="966.3" y="602.1" width="114.2" height="11.5" fill="#5a06fa"/>
<rect x="966.3" y="619.2" width="114.2" height="8.6" fill="#5a06fa"/>
<rect x="966.3" y="633.0" width="114.2" height="5.3" fill="#5a06fa"/>
<rect x="966.3" y="644.1" width="114.2" height="3.8" fill="#5a06fa"/>
<rect x="966.3" y="647.9" width="114.2" height="2.5" fill="#1e7ee8"/>
<rect x="966.3" y="650.4" width="114.2" height="2.3" fill="#5a06fa"/>
<rect x="966.3" y="655.1" width="114.2" height="6.5" fill="#5a06fa"/>
<rect x="966.3" y="663.2" width="114.2" height="3.4" fill="#4c0cc0"/>
<rect x="966.3" y="669.3" width="114.2" height="3.4" fill="#1e7ee8"/>
<rect x="966.3" y="672.7" width="114.2" height="16.2" fill="#5a06fa"/>
<rect x="966.3" y="693.9" width="114.2" height="3.8" fill="#5a06fa"/>
<rect x="966.3" y="700.0" width="114.2" height="5.7" fill="#5a06fa"/>
<rect x="966.3" y="710.9" width="114.2" height="5.7" fill="#5a06fa"/>
<rect x="966.3" y="724.8" width="114.2" height="3.2" fill="#5a06fa"/>
<rect x="966.3" y="728.1" width="114.2" height="2.9" fill="#0606f2"/>
<rect x="966.3" y="735.7" width="114.2" height="8.6" fill="#5a06fa"/>
<rect x="966.3" y="749.7" width="114.2" height="2.9" fill="#5a06fa"/>
<rect x="966.3" y="755.4" width="114.2" height="3.2" fill="#5a06fa"/>
<rect x="966.3" y="758.6" width="114.2" height="11.1" fill="#0606f2"/>
<rect x="966.3" y="772.0" width="114.2" height="2.9" fill="#5a06fa"/>
<rect x="966.3" y="774.9" width="114.2" height="3.8" fill="#1e7ee8"/>
<rect x="966.3" y="778.7" width="114.2" height="2.3" fill="#5a06fa"/>
<rect x="966.3" y="791.1" width="114.2" height="3.8" fill="#4c0cc0"/>
<rect x="966.3" y="796.8" width="114.2" height="3.2" fill="#1e7ee8"/>
<rect x="966.3" y="800.1" width="114.2" height="5.7" fill="#5a06fa"/>
<rect x="966.3" y="813.1" width="114.2" height="6.7" fill="#5a06fa"/>
<rect x="966.3" y="837.9" width="114.2" height="3.8" fill="#5a06fa"/>
<rect x="1080.5" y="580.1" width="108.0" height="6.7" fill="#5a06fa"/>
<rect x="1080.5" y="594.0" width="108.0" height="8.6" fill="#0606f2"/>
<rect x="1080.5" y="611.0" width="108.0" height="2.5" fill="#5a06fa"/>
<rect x="1080.5" y="613.5" width="108.0" height="2.9" fill="#1414b4"/>
<rect x="1080.5" y="618.7" width="108.0" height="3.8" fill="#1e7ee8"/>
<rect x="1080.5" y="630.1" width="108.0" height="3.4" fill="#0606f2"/>
<rect x="1080.5" y="636.1" width="108.0" height="2.3" fill="#5a06fa"/>
<rect x="1080.5" y="641.2" width="108.0" height="8.6" fill="#0606f2"/>
<rect x="1080.5" y="649.8" width="108.0" height="2.9" fill="#5a06fa"/>
<rect x="1080.5" y="658.0" width="108.0" height="8.6" fill="#5a06fa"/>
<rect x="1080.5" y="669.3" width="108.0" height="3.4" fill="#5a06fa"/>
<rect x="1080.5" y="686.1" width="108.0" height="8.6" fill="#0606f2"/>
<rect x="1080.5" y="701.9" width="108.0" height="3.8" fill="#5a06fa"/>
<rect x="1080.5" y="718.9" width="108.0" height="8.8" fill="#5a06fa"/>
<rect x="1080.5" y="730.0" width="108.0" height="3.4" fill="#0606f2"/>
<rect x="1080.5" y="749.7" width="108.0" height="2.9" fill="#5a06fa"/>
<rect x="1080.5" y="755.4" width="108.0" height="8.4" fill="#5a06fa"/>
<rect x="1080.5" y="765.9" width="108.0" height="3.8" fill="#5a06fa"/>
<rect x="1080.5" y="772.0" width="108.0" height="2.5" fill="#5a06fa"/>
<rect x="1080.5" y="777.2" width="108.0" height="3.4" fill="#5a06fa"/>
<rect x="1080.5" y="786.3" width="108.0" height="1.9" fill="#4c0cc0"/>
<rect x="1080.5" y="804.9" width="108.0" height="3.4" fill="#1414b4"/>
<rect x="1080.5" y="813.1" width="108.0" height="6.7" fill="#0606f2"/>
<rect x="1080.5" y="827.0" width="108.0" height="11.5" fill="#0606f2"/>
<rect x="1188.5" y="580.1" width="108.9" height="6.7" fill="#5a06fa"/>
<rect x="1188.5" y="596.9" width="108.9" height="5.7" fill="#0606f2"/>
<rect x="1188.5" y="602.6" width="108.9" height="6.1" fill="#5a06fa"/>
<rect x="1188.5" y="611.0" width="108.9" height="2.5" fill="#5a06fa"/>
<rect x="1188.5" y="616.4" width="108.9" height="11.5" fill="#5a06fa"/>
<rect x="1188.5" y="627.8" width="108.9" height="2.9" fill="#0606f2"/>
<rect x="1188.5" y="630.7" width="108.9" height="5.3" fill="#5a06fa"/>
<rect x="1188.5" y="638.0" width="108.9" height="3.6" fill="#0606f2"/>
<rect x="1188.5" y="646.9" width="108.9" height="2.9" fill="#0606f2"/>
<rect x="1188.5" y="649.8" width="108.9" height="2.9" fill="#5a06fa"/>
<rect x="1188.5" y="655.1" width="108.9" height="3.6" fill="#1e7ee8"/>
<rect x="1188.5" y="658.8" width="108.9" height="2.9" fill="#0606f2"/>
<rect x="1188.5" y="675.0" width="108.9" height="5.7" fill="#5a06fa"/>
<rect x="1188.5" y="697.0" width="108.9" height="3.1" fill="#5a06fa"/>
<rect x="1188.5" y="700.0" width="108.9" height="3.2" fill="#0606f2"/>
<rect x="1188.5" y="703.3" width="108.9" height="5.3" fill="#5a06fa"/>
<rect x="1188.5" y="708.6" width="108.9" height="3.2" fill="#1e7ee8"/>
<rect x="1188.5" y="713.0" width="108.9" height="9.7" fill="#5a06fa"/>
<rect x="1188.5" y="724.8" width="108.9" height="2.9" fill="#4c0cc0"/>
<rect x="1188.5" y="743.9" width="108.9" height="3.8" fill="#5a06fa"/>
<rect x="1188.5" y="754.8" width="108.9" height="3.8" fill="#5a06fa"/>
<rect x="1188.5" y="760.9" width="108.9" height="5.9" fill="#5a06fa"/>
<rect x="1188.5" y="769.2" width="108.9" height="5.7" fill="#5a06fa"/>
<rect x="1188.5" y="777.2" width="108.9" height="3.8" fill="#1e7ee8"/>
<rect x="1188.5" y="781.0" width="108.9" height="3.4" fill="#5a06fa"/>
<rect x="1188.5" y="784.4" width="108.9" height="3.8" fill="#1414b4"/>
<rect x="1188.5" y="791.1" width="108.9" height="3.8" fill="#0606f2"/>
<rect x="1188.5" y="794.9" width="108.9" height="2.9" fill="#1e7ee8"/>
<rect x="1188.5" y="800.1" width="108.9" height="5.7" fill="#0606f2"/>
<rect x="1188.5" y="805.8" width="108.9" height="2.9" fill="#5a06fa"/>
<rect x="1188.5" y="813.1" width="108.9" height="14.7" fill="#5a06fa"/>
<rect x="1188.5" y="827.8" width="108.9" height="10.7" fill="#0606f2"/>
<rect x="1297.4" y="585.8" width="107.6" height="2.9" fill="#5a06fa"/>
<rect x="1297.4" y="591.2" width="107.6" height="6.7" fill="#5a06fa"/>
<rect x="1297.4" y="602.1" width="107.6" height="6.7" fill="#5a06fa"/>
<rect x="1297.4" y="625.0" width="107.6" height="2.9" fill="#5a06fa"/>
<rect x="1297.4" y="655.1" width="107.6" height="9.0" fill="#5a06fa"/>
<rect x="1297.4" y="691.0" width="107.6" height="3.6" fill="#5a06fa"/>
<rect x="1297.4" y="700.0" width="107.6" height="5.7" fill="#5a06fa"/>
<rect x="1297.4" y="708.0" width="107.6" height="5.7" fill="#5a06fa"/>
<rect x="1297.4" y="716.1" width="107.6" height="3.8" fill="#5a06fa"/>
<rect x="1297.4" y="725.2" width="107.6" height="8.2" fill="#5a06fa"/>
<rect x="1297.4" y="769.2" width="107.6" height="3.4" fill="#5a06fa"/>
<rect x="1297.4" y="579.7" width="114.1" height="1.0" fill="#5a06fa"/>
<rect x="1297.4" y="613.1" width="114.1" height="3.2" fill="#5a06fa"/>
<rect x="1297.4" y="618.7" width="114.1" height="3.8" fill="#5a06fa"/>
<rect x="1297.4" y="627.8" width="114.1" height="2.9" fill="#0606f2"/>
<rect x="1297.4" y="636.1" width="114.1" height="2.9" fill="#0606f2"/>
<rect x="1297.4" y="664.1" width="114.1" height="2.5" fill="#0606f2"/>
<rect x="1297.4" y="680.0" width="114.1" height="3.6" fill="#5a06fa"/>
<rect x="1297.4" y="686.1" width="114.1" height="2.9" fill="#5a06fa"/>
<rect x="1297.4" y="721.8" width="114.1" height="3.4" fill="#1e7ee8"/>
<rect x="1297.4" y="735.7" width="114.1" height="2.9" fill="#5a06fa"/>
<rect x="1297.4" y="738.6" width="114.1" height="9.2" fill="#0606f2"/>
<rect x="1297.4" y="752.0" width="114.1" height="3.8" fill="#0606f2"/>
<rect x="1297.4" y="758.1" width="114.1" height="3.4" fill="#0606f2"/>
<rect x="1297.4" y="774.9" width="114.1" height="2.9" fill="#5a06fa"/>
<rect x="1297.4" y="780.0" width="114.1" height="4.4" fill="#0606f2"/>
<rect x="1297.4" y="788.2" width="114.1" height="3.4" fill="#0606f2"/>
<rect x="1297.4" y="791.7" width="114.1" height="3.2" fill="#5a06fa"/>
<rect x="1297.4" y="807.9" width="114.1" height="11.8" fill="#0606f2"/>
<rect x="1297.4" y="837.9" width="114.1" height="3.8" fill="#5a06fa"/>
<rect x="1411.5" y="580.1" width="58.5" height="6.7" fill="#5a06fa"/>
<rect x="1411.5" y="588.3" width="58.5" height="3.6" fill="#5a06fa"/>
<rect x="1411.5" y="608.2" width="58.5" height="5.3" fill="#0606f2"/>
<rect x="1411.5" y="613.5" width="58.5" height="2.9" fill="#5a06fa"/>
<rect x="1411.5" y="618.7" width="58.5" height="3.8" fill="#5a06fa"/>
<rect x="1411.5" y="638.0" width="58.5" height="4.2" fill="#5a06fa"/>
<rect x="1411.5" y="642.2" width="58.5" height="2.9" fill="#0606f2"/>
<rect x="1411.5" y="645.0" width="58.5" height="7.6" fill="#5a06fa"/>
<rect x="1411.5" y="655.1" width="58.5" height="3.6" fill="#5a06fa"/>
<rect x="1411.5" y="663.2" width="58.5" height="3.4" fill="#5a06fa"/>
<rect x="1411.5" y="675.0" width="58.5" height="5.7" fill="#0606f2"/>
<rect x="1411.5" y="680.7" width="58.5" height="2.9" fill="#5a06fa"/>
<rect x="1411.5" y="686.1" width="58.5" height="2.9" fill="#5a06fa"/>
<rect x="1411.5" y="693.9" width="58.5" height="6.1" fill="#1e7ee8"/>
<rect x="1411.5" y="700.0" width="58.5" height="2.3" fill="#5a06fa"/>
<rect x="1411.5" y="705.2" width="58.5" height="3.8" fill="#5a06fa"/>
<rect x="1411.5" y="710.9" width="58.5" height="2.9" fill="#5a06fa"/>
<rect x="1411.5" y="718.9" width="58.5" height="5.3" fill="#0606f2"/>
<rect x="1411.5" y="733.3" width="58.5" height="5.3" fill="#5a06fa"/>
<rect x="1411.5" y="743.9" width="58.5" height="3.8" fill="#0606f2"/>
<rect x="1411.5" y="752.0" width="58.5" height="6.7" fill="#5a06fa"/>
<rect x="1411.5" y="765.9" width="58.5" height="3.8" fill="#5a06fa"/>
<rect x="1411.5" y="772.0" width="58.5" height="2.9" fill="#1e7ee8"/>
<rect x="1411.5" y="774.9" width="58.5" height="2.9" fill="#5a06fa"/>
<rect x="1411.5" y="782.9" width="58.5" height="3.4" fill="#4c0cc0"/>
<rect x="1411.5" y="791.1" width="58.5" height="8.6" fill="#0606f2"/>
<rect x="1411.5" y="804.9" width="58.5" height="8.8" fill="#5a06fa"/>
<rect x="1411.5" y="818.8" width="58.5" height="9.0" fill="#5a06fa"/>
<rect x="1411.5" y="837.9" width="58.5" height="3.8" fill="#5a06fa"/>
<rect x="372.1" y="434.9" width="1099.9" height="2.2" fill="#000"/>
<rect x="372.2" y="784.5" width="1099.8" height="2.0" fill="#000"/>
<rect x="361.1" y="192.9" width="1122.9" height="2.6" fill="#000"/>
<rect x="361.1" y="493.1" width="1122.9" height="2.8" fill="#000"/>
<rect x="371.1" y="194.2" width="2.0" height="300.3" fill="#000"/>
<rect x="1471.0" y="194.2" width="2.0" height="300.3" fill="#000"/>
<rect x="363.2" y="546.0" width="1120.8" height="1.9" fill="#000"/>
<rect x="363.2" y="842.9" width="1120.8" height="2.9" fill="#000"/>
<rect x="371.2" y="547.0" width="2.0" height="297.4" fill="#000"/>
<rect x="1471.0" y="547.0" width="2.0" height="297.4" fill="#000"/>
<rect x="363.1" y="868.1" width="1125.9" height="2.7" fill="#000"/>
<rect x="363.1" y="1162.5" width="1125.9" height="2.1" fill="#000"/>
<rect x="377.1" y="869.5" width="2.0" height="294.1" fill="#000"/>
<rect x="1474.0" y="869.5" width="2.0" height="294.1" fill="#000"/>
<rect x="445.0" y="194.2" width="2.0" height="8.0" fill="#000"/>
<rect x="445.0" y="489.0" width="2.0" height="5.5" fill="#000"/>
<rect x="518.8" y="194.2" width="2.0" height="8.0" fill="#000"/>
<rect x="518.8" y="489.0" width="2.0" height="5.5" fill="#000"/>
<rect x="592.5" y="194.2" width="2.0" height="8.0" fill="#000"/>
<rect x="592.5" y="489.0" width="2.0" height="5.5" fill="#000"/>
<rect x="666.3" y="194.2" width="2.0" height="8.0" fill="#000"/>
<rect x="666.3" y="489.0" width="2.0" height="5.5" fill="#000"/>
<rect x="740.1" y="194.2" width="2.0" height="11.5" fill="#000"/>
<rect x="740.1" y="484.0" width="2.0" height="10.5" fill="#000"/>
<rect x="813.9" y="194.2" width="2.0" height="8.0" fill="#000"/>
<rect x="813.9" y="489.0" width="2.0" height="5.5" fill="#000"/>
<rect x="887.6" y="194.2" width="2.0" height="8.0" fill="#000"/>
<rect x="887.6" y="489.0" width="2.0" height="5.5" fill="#000"/>
<rect x="961.4" y="194.2" width="2.0" height="8.0" fill="#000"/>
<rect x="961.4" y="489.0" width="2.0" height="5.5" fill="#000"/>
<rect x="1035.2" y="194.2" width="2.0" height="8.0" fill="#000"/>
<rect x="1035.2" y="489.0" width="2.0" height="5.5" fill="#000"/>
<rect x="1109.0" y="194.2" width="2.0" height="11.5" fill="#000"/>
<rect x="1109.0" y="484.0" width="2.0" height="10.5" fill="#000"/>
<rect x="1182.7" y="194.2" width="2.0" height="8.0" fill="#000"/>
<rect x="1182.7" y="489.0" width="2.0" height="5.5" fill="#000"/>
<rect x="1256.5" y="194.2" width="2.0" height="8.0" fill="#000"/>
<rect x="1256.5" y="489.0" width="2.0" height="5.5" fill="#000"/>
<rect x="1330.3" y="194.2" width="2.0" height="8.0" fill="#000"/>
<rect x="1330.3" y="489.0" width="2.0" height="5.5" fill="#000"/>
<rect x="1404.1" y="194.2" width="2.0" height="8.0" fill="#000"/>
<rect x="1404.1" y="489.0" width="2.0" height="5.5" fill="#000"/>
<rect x="445.0" y="547.0" width="2.0" height="8.0" fill="#000"/>
<rect x="445.0" y="838.9" width="2.0" height="5.5" fill="#000"/>
<rect x="518.8" y="547.0" width="2.0" height="8.0" fill="#000"/>
<rect x="518.8" y="838.9" width="2.0" height="5.5" fill="#000"/>
<rect x="592.5" y="547.0" width="2.0" height="8.0" fill="#000"/>
<rect x="592.5" y="838.9" width="2.0" height="5.5" fill="#000"/>
<rect x="666.3" y="547.0" width="2.0" height="8.0" fill="#000"/>
<rect x="666.3" y="838.9" width="2.0" height="5.5" fill="#000"/>
<rect x="740.1" y="547.0" width="2.0" height="11.5" fill="#000"/>
<rect x="740.1" y="833.9" width="2.0" height="10.5" fill="#000"/>
<rect x="813.9" y="547.0" width="2.0" height="8.0" fill="#000"/>
<rect x="813.9" y="838.9" width="2.0" height="5.5" fill="#000"/>
<rect x="887.6" y="547.0" width="2.0" height="8.0" fill="#000"/>
<rect x="887.6" y="838.9" width="2.0" height="5.5" fill="#000"/>
<rect x="961.4" y="547.0" width="2.0" height="8.0" fill="#000"/>
<rect x="961.4" y="838.9" width="2.0" height="5.5" fill="#000"/>
<rect x="1035.2" y="547.0" width="2.0" height="8.0" fill="#000"/>
<rect x="1035.2" y="838.9" width="2.0" height="5.5" fill="#000"/>
<rect x="1109.0" y="547.0" width="2.0" height="11.5" fill="#000"/>
<rect x="1109.0" y="833.9" width="2.0" height="10.5" fill="#000"/>
<rect x="1182.7" y="547.0" width="2.0" height="8.0" fill="#000"/>
<rect x="1182.7" y="838.9" width="2.0" height="5.5" fill="#000"/>
<rect x="1256.5" y="547.0" width="2.0" height="8.0" fill="#000"/>
<rect x="1256.5" y="838.9" width="2.0" height="5.5" fill="#000"/>
<rect x="1330.3" y="547.0" width="2.0" height="8.0" fill="#000"/>
<rect x="1330.3" y="838.9" width="2.0" height="5.5" fill="#000"/>
<rect x="1404.1" y="547.0" width="2.0" height="8.0" fill="#000"/>
<rect x="1404.1" y="838.9" width="2.0" height="5.5" fill="#000"/>
<rect x="449.4" y="869.5" width="2.0" height="7.0" fill="#000"/>
<rect x="449.4" y="1158.1" width="2.0" height="5.5" fill="#000"/>
<rect x="523.3" y="869.5" width="2.0" height="7.0" fill="#000"/>
<rect x="523.3" y="1158.1" width="2.0" height="5.5" fill="#000"/>
<rect x="597.1" y="869.5" width="2.0" height="7.0" fill="#000"/>
<rect x="597.1" y="1158.1" width="2.0" height="5.5" fill="#000"/>
<rect x="671.0" y="869.5" width="2.0" height="7.0" fill="#000"/>
<rect x="671.0" y="1158.1" width="2.0" height="5.5" fill="#000"/>
<rect x="744.8" y="869.5" width="2.0" height="10.5" fill="#000"/>
<rect x="744.8" y="1153.1" width="2.0" height="10.5" fill="#000"/>
<rect x="818.6" y="869.5" width="2.0" height="7.0" fill="#000"/>
<rect x="818.6" y="1158.1" width="2.0" height="5.5" fill="#000"/>
<rect x="892.5" y="869.5" width="2.0" height="7.0" fill="#000"/>
<rect x="892.5" y="1158.1" width="2.0" height="5.5" fill="#000"/>
<rect x="966.3" y="869.5" width="2.0" height="7.0" fill="#000"/>
<rect x="966.3" y="1158.1" width="2.0" height="5.5" fill="#000"/>
<rect x="1040.2" y="869.5" width="2.0" height="7.0" fill="#000"/>
<rect x="1040.2" y="1158.1" width="2.0" height="5.5" fill="#000"/>
<rect x="1114.0" y="869.5" width="2.0" height="10.5" fill="#000"/>
<rect x="1114.0" y="1153.1" width="2.0" height="10.5" fill="#000"/>
<rect x="1187.8" y="869.5" width="2.0" height="7.0" fill="#000"/>
<rect x="1187.8" y="1158.1" width="2.0" height="5.5" fill="#000"/>
<rect x="1261.7" y="869.5" width="2.0" height="7.0" fill="#000"/>
<rect x="1261.7" y="1158.1" width="2.0" height="5.5" fill="#000"/>
<rect x="1335.5" y="869.5" width="2.0" height="7.0" fill="#000"/>
<rect x="1335.5" y="1158.1" width="2.0" height="5.5" fill="#000"/>
<rect x="1409.4" y="869.5" width="2.0" height="7.0" fill="#000"/>
<rect x="1409.4" y="1158.1" width="2.0" height="5.5" fill="#000"/>
<rect x="361.1" y="493.1" width="11.0" height="2.8" fill="#000"/>
<rect x="362.8" y="470.8" width="9.3" height="2.3" fill="#000"/>
<rect x="362.8" y="457.5" width="9.3" height="2.3" fill="#000"/>
<rect x="362.8" y="448.2" width="9.3" height="2.3" fill="#000"/>
<rect x="362.8" y="440.9" width="9.3" height="2.3" fill="#000"/>
<rect x="362.8" y="434.9" width="9.3" height="2.3" fill="#000"/>
<rect x="362.8" y="429.9" width="9.3" height="2.3" fill="#000"/>
<rect x="362.8" y="425.6" width="9.3" height="2.3" fill="#000"/>
<rect x="362.8" y="421.7" width="9.3" height="2.3" fill="#000"/>
<rect x="361.1" y="418.1" width="11.0" height="2.8" fill="#000"/>
<rect x="362.8" y="395.7" width="9.3" height="2.3" fill="#000"/>
<rect x="362.8" y="382.5" width="9.3" height="2.3" fill="#000"/>
<rect x="362.8" y="373.1" width="9.3" height="2.3" fill="#000"/>
<rect x="362.8" y="365.8" width="9.3" height="2.3" fill="#000"/>
<rect x="362.8" y="359.9" width="9.3" height="2.3" fill="#000"/>
<rect x="362.8" y="354.9" width="9.3" height="2.3" fill="#000"/>
<rect x="362.8" y="350.5" width="9.3" height="2.3" fill="#000"/>
<rect x="362.8" y="346.7" width="9.3" height="2.3" fill="#000"/>
<rect x="361.1" y="343.0" width="11.0" height="2.8" fill="#000"/>
<rect x="362.8" y="320.7" width="9.3" height="2.3" fill="#000"/>
<rect x="362.8" y="307.4" width="9.3" height="2.3" fill="#000"/>
<rect x="362.8" y="298.1" width="9.3" height="2.3" fill="#000"/>
<rect x="362.8" y="290.8" width="9.3" height="2.3" fill="#000"/>
<rect x="362.8" y="284.8" width="9.3" height="2.3" fill="#000"/>
<rect x="362.8" y="279.8" width="9.3" height="2.3" fill="#000"/>
<rect x="362.8" y="275.5" width="9.3" height="2.3" fill="#000"/>
<rect x="362.8" y="271.6" width="9.3" height="2.3" fill="#000"/>
<rect x="361.1" y="268.0" width="11.0" height="2.8" fill="#000"/>
<rect x="362.8" y="245.6" width="9.3" height="2.3" fill="#000"/>
<rect x="362.8" y="232.4" width="9.3" height="2.3" fill="#000"/>
<rect x="362.8" y="223.0" width="9.3" height="2.3" fill="#000"/>
<rect x="362.8" y="215.7" width="9.3" height="2.3" fill="#000"/>
<rect x="362.8" y="209.8" width="9.3" height="2.3" fill="#000"/>
<rect x="362.8" y="204.8" width="9.3" height="2.3" fill="#000"/>
<rect x="362.8" y="200.4" width="9.3" height="2.3" fill="#000"/>
<rect x="362.8" y="196.6" width="9.3" height="2.3" fill="#000"/>
<rect x="361.1" y="192.9" width="11.0" height="2.8" fill="#000"/>
<rect x="361.2" y="743.4" width="11.0" height="2.8" fill="#000"/>
<rect x="362.9" y="721.1" width="9.3" height="2.3" fill="#000"/>
<rect x="362.9" y="707.9" width="9.3" height="2.3" fill="#000"/>
<rect x="362.9" y="698.5" width="9.3" height="2.3" fill="#000"/>
<rect x="362.9" y="691.2" width="9.3" height="2.3" fill="#000"/>
<rect x="362.9" y="685.3" width="9.3" height="2.3" fill="#000"/>
<rect x="362.9" y="680.3" width="9.3" height="2.3" fill="#000"/>
<rect x="362.9" y="675.9" width="9.3" height="2.3" fill="#000"/>
<rect x="362.9" y="672.1" width="9.3" height="2.3" fill="#000"/>
<rect x="361.2" y="668.4" width="11.0" height="2.8" fill="#000"/>
<rect x="362.9" y="646.1" width="9.3" height="2.3" fill="#000"/>
<rect x="362.9" y="632.9" width="9.3" height="2.3" fill="#000"/>
<rect x="362.9" y="623.5" width="9.3" height="2.3" fill="#000"/>
<rect x="362.9" y="616.2" width="9.3" height="2.3" fill="#000"/>
<rect x="362.9" y="610.3" width="9.3" height="2.3" fill="#000"/>
<rect x="362.9" y="605.3" width="9.3" height="2.3" fill="#000"/>
<rect x="362.9" y="600.9" width="9.3" height="2.3" fill="#000"/>
<rect x="362.9" y="597.1" width="9.3" height="2.3" fill="#000"/>
<rect x="361.2" y="593.4" width="11.0" height="2.8" fill="#000"/>
<rect x="362.9" y="568.2" width="9.3" height="2.4" fill="#000"/>
<rect x="362.9" y="554.1" width="9.3" height="2.4" fill="#000"/>
<rect x="361.2" y="820.9" width="11.0" height="2.4" fill="#000"/>
<rect x="362.9" y="797.7" width="9.3" height="2.3" fill="#000"/>
<rect x="362.9" y="784.0" width="9.3" height="2.3" fill="#000"/>
<rect x="362.9" y="774.4" width="9.3" height="2.3" fill="#000"/>
<rect x="362.9" y="766.8" width="9.3" height="2.3" fill="#000"/>
<rect x="362.9" y="760.7" width="9.3" height="2.3" fill="#000"/>
<rect x="362.9" y="755.5" width="9.3" height="2.3" fill="#000"/>
<rect x="362.9" y="751.1" width="9.3" height="2.3" fill="#000"/>
<rect x="362.9" y="747.1" width="9.3" height="2.3" fill="#000"/>
<rect x="362.9" y="838.1" width="9.3" height="2.3" fill="#000"/>
<rect x="362.9" y="832.9" width="9.3" height="2.3" fill="#000"/>
<rect x="362.9" y="828.5" width="9.3" height="2.3" fill="#000"/>
<rect x="362.9" y="824.5" width="9.3" height="2.3" fill="#000"/>
<rect x="1472.0" y="198.5" width="9.0" height="2.5" fill="#000"/>
<rect x="1472.0" y="204.1" width="9.0" height="2.5" fill="#000"/>
<rect x="1472.0" y="209.6" width="9.0" height="2.5" fill="#000"/>
<rect x="1472.0" y="215.2" width="9.0" height="2.5" fill="#000"/>
<rect x="1472.0" y="220.7" width="9.0" height="2.5" fill="#000"/>
<rect x="1472.0" y="226.3" width="9.0" height="2.5" fill="#000"/>
<rect x="1472.0" y="231.8" width="9.0" height="2.5" fill="#000"/>
<rect x="1472.0" y="237.4" width="9.0" height="2.5" fill="#000"/>
<rect x="1472.0" y="242.9" width="9.0" height="2.5" fill="#000"/>
<rect x="1472.0" y="248.5" width="9.0" height="2.5" fill="#000"/>
<rect x="1472.0" y="259.6" width="9.0" height="2.5" fill="#000"/>
<rect x="1472.0" y="265.1" width="9.0" height="2.5" fill="#000"/>
<rect x="1472.0" y="270.7" width="9.0" height="2.5" fill="#000"/>
<rect x="1472.0" y="276.2" width="9.0" height="2.5" fill="#000"/>
<rect x="1472.0" y="281.8" width="9.0" height="2.5" fill="#000"/>
<rect x="1472.0" y="287.3" width="9.0" height="2.5" fill="#000"/>
<rect x="1472.0" y="292.9" width="9.0" height="2.5" fill="#000"/>
<rect x="1472.0" y="298.4" width="9.0" height="2.5" fill="#000"/>
<rect x="1472.0" y="304.0" width="9.0" height="2.5" fill="#000"/>
<rect x="1472.0" y="320.6" width="9.0" height="2.5" fill="#000"/>
<rect x="1472.0" y="326.2" width="9.0" height="2.5" fill="#000"/>
<rect x="1472.0" y="331.7" width="9.0" height="2.5" fill="#000"/>
<rect x="1472.0" y="337.3" width="9.0" height="2.5" fill="#000"/>
<rect x="1472.0" y="342.8" width="9.0" height="2.5" fill="#000"/>
<rect x="1472.0" y="348.4" width="9.0" height="2.5" fill="#000"/>
<rect x="1472.0" y="353.9" width="9.0" height="2.5" fill="#000"/>
<rect x="1472.0" y="359.5" width="9.0" height="2.5" fill="#000"/>
<rect x="1472.0" y="365.0" width="9.0" height="2.5" fill="#000"/>
<rect x="1472.0" y="381.7" width="9.0" height="2.5" fill="#000"/>
<rect x="1472.0" y="387.2" width="9.0" height="2.5" fill="#000"/>
<rect x="1472.0" y="392.8" width="9.0" height="2.5" fill="#000"/>
<rect x="1472.0" y="398.3" width="9.0" height="2.5" fill="#000"/>
<rect x="1472.0" y="403.9" width="9.0" height="2.5" fill="#000"/>
<rect x="1472.0" y="409.4" width="9.0" height="2.5" fill="#000"/>
<rect x="1472.0" y="415.0" width="9.0" height="2.5" fill="#000"/>
<rect x="1472.0" y="420.5" width="9.0" height="2.5" fill="#000"/>
<rect x="1472.0" y="426.1" width="9.0" height="2.5" fill="#000"/>
<rect x="1472.0" y="442.7" width="9.0" height="2.5" fill="#000"/>
<rect x="1472.0" y="448.3" width="9.0" height="2.5" fill="#000"/>
<rect x="1472.0" y="453.8" width="9.0" height="2.5" fill="#000"/>
<rect x="1472.0" y="459.4" width="9.0" height="2.5" fill="#000"/>
<rect x="1472.0" y="464.9" width="9.0" height="2.5" fill="#000"/>
<rect x="1472.0" y="470.5" width="9.0" height="2.5" fill="#000"/>
<rect x="1472.0" y="476.0" width="9.0" height="2.5" fill="#000"/>
<rect x="1472.0" y="481.6" width="9.0" height="2.5" fill="#000"/>
<rect x="1472.0" y="487.1" width="9.0" height="2.5" fill="#000"/>
<rect x="1472.0" y="193.2" width="12.0" height="2.6" fill="#000"/>
<rect x="1472.0" y="254.3" width="12.0" height="2.6" fill="#000"/>
<rect x="1472.0" y="312.8" width="12.0" height="2.6" fill="#000"/>
<rect x="1472.0" y="373.3" width="12.0" height="2.6" fill="#000"/>
<rect x="1472.0" y="434.5" width="12.0" height="2.6" fill="#000"/>
<rect x="1472.0" y="551.7" width="9.0" height="2.5" fill="#000"/>
<rect x="1472.0" y="557.7" width="9.0" height="2.5" fill="#000"/>
<rect x="1472.0" y="563.6" width="9.0" height="2.5" fill="#000"/>
<rect x="1472.0" y="569.6" width="9.0" height="2.5" fill="#000"/>
<rect x="1472.0" y="575.5" width="9.0" height="2.5" fill="#000"/>
<rect x="1472.0" y="581.5" width="9.0" height="2.5" fill="#000"/>
<rect x="1472.0" y="587.4" width="9.0" height="2.5" fill="#000"/>
<rect x="1472.0" y="593.4" width="9.0" height="2.5" fill="#000"/>
<rect x="1472.0" y="599.3" width="9.0" height="2.5" fill="#000"/>
<rect x="1472.0" y="611.2" width="9.0" height="2.5" fill="#000"/>
<rect x="1472.0" y="617.2" width="9.0" height="2.5" fill="#000"/>
<rect x="1472.0" y="623.1" width="9.0" height="2.5" fill="#000"/>
<rect x="1472.0" y="629.1" width="9.0" height="2.5" fill="#000"/>
<rect x="1472.0" y="635.0" width="9.0" height="2.5" fill="#000"/>
<rect x="1472.0" y="641.0" width="9.0" height="2.5" fill="#000"/>
<rect x="1472.0" y="646.9" width="9.0" height="2.5" fill="#000"/>
<rect x="1472.0" y="652.9" width="9.0" height="2.5" fill="#000"/>
<rect x="1472.0" y="658.8" width="9.0" height="2.5" fill="#000"/>
<rect x="1472.0" y="670.7" width="9.0" height="2.5" fill="#000"/>
<rect x="1472.0" y="676.7" width="9.0" height="2.5" fill="#000"/>
<rect x="1472.0" y="682.6" width="9.0" height="2.5" fill="#000"/>
<rect x="1472.0" y="688.6" width="9.0" height="2.5" fill="#000"/>
<rect x="1472.0" y="694.5" width="9.0" height="2.5" fill="#000"/>
<rect x="1472.0" y="700.5" width="9.0" height="2.5" fill="#000"/>
<rect x="1472.0" y="706.4" width="9.0" height="2.5" fill="#000"/>
<rect x="1472.0" y="712.4" width="9.0" height="2.5" fill="#000"/>
<rect x="1472.0" y="718.3" width="9.0" height="2.5" fill="#000"/>
<rect x="1472.0" y="730.2" width="9.0" height="2.5" fill="#000"/>
<rect x="1472.0" y="736.2" width="9.0" height="2.5" fill="#000"/>
<rect x="1472.0" y="742.1" width="9.0" height="2.5" fill="#000"/>
<rect x="1472.0" y="748.1" width="9.0" height="2.5" fill="#000"/>
<rect x="1472.0" y="754.0" width="9.0" height="2.5" fill="#000"/>
<rect x="1472.0" y="760.0" width="9.0" height="2.5" fill="#000"/>
<rect x="1472.0" y="765.9" width="9.0" height="2.5" fill="#000"/>
<rect x="1472.0" y="771.9" width="9.0" height="2.5" fill="#000"/>
<rect x="1472.0" y="777.8" width="9.0" height="2.5" fill="#000"/>
<rect x="1472.0" y="789.7" width="9.0" height="2.5" fill="#000"/>
<rect x="1472.0" y="795.7" width="9.0" height="2.5" fill="#000"/>
<rect x="1472.0" y="801.6" width="9.0" height="2.5" fill="#000"/>
<rect x="1472.0" y="807.6" width="9.0" height="2.5" fill="#000"/>
<rect x="1472.0" y="813.5" width="9.0" height="2.5" fill="#000"/>
<rect x="1472.0" y="819.5" width="9.0" height="2.5" fill="#000"/>
<rect x="1472.0" y="825.4" width="9.0" height="2.5" fill="#000"/>
<rect x="1472.0" y="831.4" width="9.0" height="2.5" fill="#000"/>
<rect x="1472.0" y="837.3" width="9.0" height="2.5" fill="#000"/>
<rect x="1472.0" y="545.7" width="12.0" height="2.6" fill="#000"/>
<rect x="1472.0" y="603.9" width="12.0" height="2.6" fill="#000"/>
<rect x="1472.0" y="664.5" width="12.0" height="2.6" fill="#000"/>
<rect x="1472.0" y="723.9" width="12.0" height="2.6" fill="#000"/>
<rect x="1472.0" y="783.9" width="12.0" height="2.6" fill="#000"/>
<rect x="1472.0" y="843.1" width="12.0" height="2.6" fill="#000"/>
<rect x="1475.0" y="874.1" width="9.0" height="2.5" fill="#000"/>
<rect x="1475.0" y="880.0" width="9.0" height="2.5" fill="#000"/>
<rect x="1475.0" y="885.9" width="9.0" height="2.5" fill="#000"/>
<rect x="1475.0" y="891.8" width="9.0" height="2.5" fill="#000"/>
<rect x="1475.0" y="897.6" width="9.0" height="2.5" fill="#000"/>
<rect x="1475.0" y="903.5" width="9.0" height="2.5" fill="#000"/>
<rect x="1475.0" y="909.4" width="9.0" height="2.5" fill="#000"/>
<rect x="1475.0" y="915.3" width="9.0" height="2.5" fill="#000"/>
<rect x="1475.0" y="921.2" width="9.0" height="2.5" fill="#000"/>
<rect x="1475.0" y="932.9" width="9.0" height="2.5" fill="#000"/>
<rect x="1475.0" y="938.8" width="9.0" height="2.5" fill="#000"/>
<rect x="1475.0" y="944.7" width="9.0" height="2.5" fill="#000"/>
<rect x="1475.0" y="950.6" width="9.0" height="2.5" fill="#000"/>
<rect x="1475.0" y="956.4" width="9.0" height="2.5" fill="#000"/>
<rect x="1475.0" y="962.3" width="9.0" height="2.5" fill="#000"/>
<rect x="1475.0" y="968.2" width="9.0" height="2.5" fill="#000"/>
<rect x="1475.0" y="974.1" width="9.0" height="2.5" fill="#000"/>
<rect x="1475.0" y="980.0" width="9.0" height="2.5" fill="#000"/>
<rect x="1475.0" y="991.7" width="9.0" height="2.5" fill="#000"/>
<rect x="1475.0" y="997.6" width="9.0" height="2.5" fill="#000"/>
<rect x="1475.0" y="1003.5" width="9.0" height="2.5" fill="#000"/>
<rect x="1475.0" y="1009.4" width="9.0" height="2.5" fill="#000"/>
<rect x="1475.0" y="1015.2" width="9.0" height="2.5" fill="#000"/>
<rect x="1475.0" y="1021.1" width="9.0" height="2.5" fill="#000"/>
<rect x="1475.0" y="1027.0" width="9.0" height="2.5" fill="#000"/>
<rect x="1475.0" y="1032.9" width="9.0" height="2.5" fill="#000"/>
<rect x="1475.0" y="1038.8" width="9.0" height="2.5" fill="#000"/>
<rect x="1475.0" y="1050.5" width="9.0" height="2.5" fill="#000"/>
<rect x="1475.0" y="1056.4" width="9.0" height="2.5" fill="#000"/>
<rect x="1475.0" y="1062.3" width="9.0" height="2.5" fill="#000"/>
<rect x="1475.0" y="1068.2" width="9.0" height="2.5" fill="#000"/>
<rect x="1475.0" y="1074.1" width="9.0" height="2.5" fill="#000"/>
<rect x="1475.0" y="1079.9" width="9.0" height="2.5" fill="#000"/>
<rect x="1475.0" y="1085.8" width="9.0" height="2.5" fill="#000"/>
<rect x="1475.0" y="1091.7" width="9.0" height="2.5" fill="#000"/>
<rect x="1475.0" y="1097.6" width="9.0" height="2.5" fill="#000"/>
<rect x="1475.0" y="1109.3" width="9.0" height="2.5" fill="#000"/>
<rect x="1475.0" y="1115.2" width="9.0" height="2.5" fill="#000"/>
<rect x="1475.0" y="1121.1" width="9.0" height="2.5" fill="#000"/>
<rect x="1475.0" y="1127.0" width="9.0" height="2.5" fill="#000"/>
<rect x="1475.0" y="1132.9" width="9.0" height="2.5" fill="#000"/>
<rect x="1475.0" y="1138.7" width="9.0" height="2.5" fill="#000"/>
<rect x="1475.0" y="1144.6" width="9.0" height="2.5" fill="#000"/>
<rect x="1475.0" y="1150.5" width="9.0" height="2.5" fill="#000"/>
<rect x="1475.0" y="1156.4" width="9.0" height="2.5" fill="#000"/>
<rect x="1475.0" y="868.2" width="14.0" height="2.6" fill="#000"/>
<rect x="1475.0" y="927.0" width="14.0" height="2.6" fill="#000"/>
<rect x="1475.0" y="985.8" width="14.0" height="2.6" fill="#000"/>
<rect x="1475.0" y="1044.6" width="14.0" height="2.6" fill="#000"/>
<rect x="1475.0" y="1103.4" width="14.0" height="2.6" fill="#000"/>
<rect x="1475.0" y="1162.2" width="14.0" height="2.6" fill="#000"/>
<rect x="363.1" y="868.2" width="15.0" height="2.6" fill="#000"/>
<rect x="369.1" y="874.1" width="9.0" height="2.5" fill="#000"/>
<rect x="369.1" y="880.0" width="9.0" height="2.5" fill="#000"/>
<rect x="369.1" y="885.9" width="9.0" height="2.5" fill="#000"/>
<rect x="369.1" y="891.8" width="9.0" height="2.5" fill="#000"/>
<rect x="369.1" y="897.6" width="9.0" height="2.5" fill="#000"/>
<rect x="369.1" y="903.5" width="9.0" height="2.5" fill="#000"/>
<rect x="369.1" y="909.4" width="9.0" height="2.5" fill="#000"/>
<rect x="369.1" y="915.3" width="9.0" height="2.5" fill="#000"/>
<rect x="369.1" y="921.2" width="9.0" height="2.5" fill="#000"/>
<rect x="363.1" y="927.0" width="15.0" height="2.6" fill="#000"/>
<rect x="369.1" y="932.9" width="9.0" height="2.5" fill="#000"/>
<rect x="369.1" y="938.8" width="9.0" height="2.5" fill="#000"/>
<rect x="369.1" y="944.7" width="9.0" height="2.5" fill="#000"/>
<rect x="369.1" y="950.6" width="9.0" height="2.5" fill="#000"/>
<rect x="369.1" y="956.5" width="9.0" height="2.5" fill="#000"/>
<rect x="369.1" y="962.3" width="9.0" height="2.5" fill="#000"/>
<rect x="369.1" y="968.2" width="9.0" height="2.5" fill="#000"/>
<rect x="369.1" y="974.1" width="9.0" height="2.5" fill="#000"/>
<rect x="369.1" y="980.0" width="9.0" height="2.5" fill="#000"/>
<rect x="363.1" y="985.8" width="15.0" height="2.6" fill="#000"/>
<rect x="369.1" y="991.7" width="9.0" height="2.5" fill="#000"/>
<rect x="369.1" y="997.6" width="9.0" height="2.5" fill="#000"/>
<rect x="369.1" y="1003.5" width="9.0" height="2.5" fill="#000"/>
<rect x="369.1" y="1009.4" width="9.0" height="2.5" fill="#000"/>
<rect x="369.1" y="1015.2" width="9.0" height="2.5" fill="#000"/>
<rect x="369.1" y="1021.1" width="9.0" height="2.5" fill="#000"/>
<rect x="369.1" y="1027.0" width="9.0" height="2.5" fill="#000"/>
<rect x="369.1" y="1032.9" width="9.0" height="2.5" fill="#000"/>
<rect x="369.1" y="1038.8" width="9.0" height="2.5" fill="#000"/>
<rect x="363.1" y="1044.6" width="15.0" height="2.6" fill="#000"/>
<rect x="369.1" y="1050.5" width="9.0" height="2.5" fill="#000"/>
<rect x="369.1" y="1056.4" width="9.0" height="2.5" fill="#000"/>
<rect x="369.1" y="1062.3" width="9.0" height="2.5" fill="#000"/>
<rect x="369.1" y="1068.2" width="9.0" height="2.5" fill="#000"/>
<rect x="369.1" y="1074.0" width="9.0" height="2.5" fill="#000"/>
<rect x="369.1" y="1079.9" width="9.0" height="2.5" fill="#000"/>
<rect x="369.1" y="1085.8" width="9.0" height="2.5" fill="#000"/>
<rect x="369.1" y="1091.7" width="9.0" height="2.5" fill="#000"/>
<rect x="369.1" y="1097.6" width="9.0" height="2.5" fill="#000"/>
<rect x="363.1" y="1103.4" width="15.0" height="2.6" fill="#000"/>
<rect x="369.1" y="1109.3" width="9.0" height="2.5" fill="#000"/>
<rect x="369.1" y="1115.2" width="9.0" height="2.5" fill="#000"/>
<rect x="369.1" y="1121.1" width="9.0" height="2.5" fill="#000"/>
<rect x="369.1" y="1127.0" width="9.0" height="2.5" fill="#000"/>
<rect x="369.1" y="1132.8" width="9.0" height="2.5" fill="#000"/>
<rect x="369.1" y="1138.7" width="9.0" height="2.5" fill="#000"/>
<rect x="369.1" y="1144.6" width="9.0" height="2.5" fill="#000"/>
<rect x="369.1" y="1150.5" width="9.0" height="2.5" fill="#000"/>
<rect x="369.1" y="1156.4" width="9.0" height="2.5" fill="#000"/>
<rect x="363.1" y="1162.2" width="15.0" height="2.6" fill="#000"/>
</g>
<path d="M380.3,896.6 L416.5,896.6 L418.8,908.5 L421.7,916.4 L508.8,916.4 L511.0,928.1 L513.7,935.9 L597.6,935.9 L601.0,947.7 L605.1,955.5 L691.9,955.5 L695.1,965.5 L699.0,972.2 L783.3,972.2 L785.8,983.7 L788.8,991.4 L876.0,991.4 L878.2,1002.9 L881.0,1010.5 L967.8,1010.5 L971.0,1022.2 L975.0,1030.0 L1059.4,1030.0 L1061.7,1041.9 L1064.5,1049.9 L1150.2,1049.9 L1153.7,1061.4 L1158.0,1069.0 L1244.5,1069.0 L1246.8,1079.2 L1249.5,1086.0 L1336.0,1086.0 L1337.6,1097.3 L1339.5,1104.8 L1425.3,1104.8 L1428.9,1116.9 L1433.2,1124.9 L1472.5,1124.9" fill="none" stroke="#000" stroke-width="2.4" stroke-linejoin="round"/>
<path d="M380.3,996.6 L1153.6,996.6 L1160,994.4 L1472.5,994.4" fill="none" stroke="#cc1818" stroke-width="2.2"/>
<path d="M1160,994.4 L1472.5,994.4" fill="none" stroke="#cc1818" stroke-width="3"/>
<g font-family='"Liberation Sans", sans-serif' style="opacity:0.999">
<text x="373.0" y="157.5" font-size="22" text-anchor="start" fill="#000">MEx ELS-04 LR</text>
<text x="373.0" y="186.2" font-size="22" text-anchor="start" fill="#000">MEx ELS-04 HR</text>
<text x="373.0" y="539.3" font-size="22" text-anchor="start" fill="#000">MEx IMA-00</text>
<text x="346.0" y="199.4" font-size="15.3" text-anchor="end">10</text>
<text x="346.4" y="191.4" font-size="10.3" text-anchor="start">4</text>
<text x="346.0" y="274.4" font-size="15.3" text-anchor="end">10</text>
<text x="346.4" y="266.4" font-size="10.3" text-anchor="start">3</text>
<text x="346.0" y="349.4" font-size="15.3" text-anchor="end">10</text>
<text x="346.4" y="341.4" font-size="10.3" text-anchor="start">2</text>
<text x="346.0" y="424.5" font-size="15.3" text-anchor="end">10</text>
<text x="346.4" y="416.5" font-size="10.3" text-anchor="start">1</text>
<text x="346.0" y="599.8" font-size="15.3" text-anchor="end">10</text>
<text x="346.4" y="591.8" font-size="10.3" text-anchor="start">4</text>
<text x="346.0" y="674.8" font-size="15.3" text-anchor="end">10</text>
<text x="346.4" y="666.8" font-size="10.3" text-anchor="start">3</text>
<text x="346.0" y="749.8" font-size="15.3" text-anchor="end">10</text>
<text x="346.4" y="741.8" font-size="10.3" text-anchor="start">2</text>
<text x="357.8" y="875.3" font-size="16.3" text-anchor="end" fill="#000">8300</text>
<text x="357.8" y="934.1" font-size="16.3" text-anchor="end" fill="#000">8275</text>
<text x="357.8" y="992.9" font-size="16.3" text-anchor="end" fill="#000">8250</text>
<text x="357.8" y="1051.7" font-size="16.3" text-anchor="end" fill="#000">8225</text>
<text x="357.8" y="1110.5" font-size="16.3" text-anchor="end" fill="#000">8200</text>
<text x="357.8" y="1169.3" font-size="16.3" text-anchor="end" fill="#000">8175</text>
<text x="1489.0" y="200.1" font-size="15.5" text-anchor="start" fill="#000">4</text>
<text x="1489.0" y="261.2" font-size="15.5" text-anchor="start" fill="#000">3</text>
<text x="1489.0" y="319.7" font-size="15.5" text-anchor="start" fill="#000">2</text>
<text x="1489.0" y="380.2" font-size="15.5" text-anchor="start" fill="#000">1</text>
<text x="1489.0" y="441.4" font-size="15.5" text-anchor="start" fill="#000">0</text>
<text x="1489.5" y="552.6" font-size="15.5" text-anchor="start" fill="#000">9</text>
<text x="1489.5" y="610.8" font-size="15.5" text-anchor="start" fill="#000">7</text>
<text x="1489.5" y="671.4" font-size="15.5" text-anchor="start" fill="#000">5</text>
<text x="1489.5" y="730.8" font-size="15.5" text-anchor="start" fill="#000">3</text>
<text x="1489.5" y="790.8" font-size="15.5" text-anchor="start" fill="#000">1</text>
<text x="1495.5" y="875.1" font-size="15.5" text-anchor="start" fill="#000">180</text>
<text x="1495.5" y="933.9" font-size="15.5" text-anchor="start" fill="#000">144</text>
<text x="1495.5" y="992.7" font-size="15.5" text-anchor="start" fill="#000">108</text>
<text x="1495.5" y="1051.5" font-size="15.5" text-anchor="start" fill="#000">72</text>
<text x="1495.5" y="1110.3" font-size="15.5" text-anchor="start" fill="#000">36</text>
<text x="1495.5" y="1169.1" font-size="15.5" text-anchor="start" fill="#000">0</text>
<text x="280.6" y="344.0" font-size="22" text-anchor="middle" fill="#000" transform="rotate(-90 280.6 344.0)">Electron Energy</text>
<text x="302.6" y="344.0" font-size="22" text-anchor="middle" fill="#000" transform="rotate(-90 302.6 344.0)">eV</text>
<text x="282.4" y="696.6" font-size="22" text-anchor="middle" fill="#000" transform="rotate(-90 282.4 696.6)">Electron Volts</text>
<text x="302.7" y="696.6" font-size="22" text-anchor="middle" fill="#000" transform="rotate(-90 302.7 696.6)">eV</text>
<text x="221.8" y="1016.5" font-size="22" text-anchor="middle" fill="#000" transform="rotate(-90 221.8 1016.5)">Sensor Data</text>
<text x="243.7" y="1016.5" font-size="22" text-anchor="middle" fill="#000" transform="rotate(-90 243.7 1016.5)">MEx Alt/Mars/Pd</text>
<text x="263.7" y="1016.5" font-size="22" text-anchor="middle" fill="#000" transform="rotate(-90 263.7 1016.5)">Distance</text>
<text x="286.0" y="1016.5" font-size="22" text-anchor="middle" fill="#000" transform="rotate(-90 286.0 1016.5)">km</text>
<text x="1600.0" y="344.0" font-size="22" text-anchor="middle" fill="#000" transform="rotate(90 1600.0 344.0)">Sensor Data</text>
<text x="1578.0" y="344.0" font-size="22" text-anchor="middle" fill="#000" transform="rotate(90 1578.0 344.0)">Sun/Surface/MEx</text>
<text x="1555.6" y="344.0" font-size="22" text-anchor="middle" fill="#000" transform="rotate(90 1555.6 344.0)">Flag</text>
<text x="1533.1" y="344.0" font-size="22" text-anchor="middle" fill="#000" transform="rotate(90 1533.1 344.0)">unitless</text>
<text x="1597.0" y="696.5" font-size="22" text-anchor="middle" fill="#000" transform="rotate(90 1597.0 696.5)">Sensor Data</text>
<text x="1578.0" y="696.5" font-size="22" text-anchor="middle" fill="#000" transform="rotate(90 1578.0 696.5)">Boundary</text>
<text x="1556.2" y="696.5" font-size="22" text-anchor="middle" fill="#000" transform="rotate(90 1556.2 696.5)">Transitions</text>
<text x="1533.0" y="696.5" font-size="22" text-anchor="middle" fill="#000" transform="rotate(90 1533.0 696.5)">unitless</text>
<text x="1614.0" y="1017.0" font-size="22" text-anchor="middle" fill="#c81c18" transform="rotate(90 1614.0 1017.0)">Sensor Data</text>
<text x="1591.8" y="1017.0" font-size="22" text-anchor="middle" fill="#c81c18" transform="rotate(90 1591.8 1017.0)">MEx SZA</text>
<text x="1569.5" y="1017.0" font-size="22" text-anchor="middle" fill="#c81c18" transform="rotate(90 1569.5 1017.0)">Angle</text>
<text x="1549.8" y="1017.0" font-size="22" text-anchor="middle" fill="#c81c18" transform="rotate(90 1549.8 1017.0)">degrees</text>
<text x="309.5" y="1189.0" font-size="22" text-anchor="end" fill="#000">2016/253:20</text>
<text x="377.8" y="1189.0" font-size="22" text-anchor="middle" fill="#000">16:00</text>
<text x="744.8" y="1189.0" font-size="22" text-anchor="middle" fill="#000">16:40</text>
<text x="1113.8" y="1189.0" font-size="22" text-anchor="middle" fill="#000">17:20</text>
<text x="1480.8" y="1189.0" font-size="22" text-anchor="middle" fill="#000">18:00</text>
<text x="309.5" y="1216.5" font-size="22" text-anchor="end" fill="#000">PdLat (deg)</text>
<text x="377.8" y="1216.5" font-size="22" text-anchor="middle" fill="#000">-61.47</text>
<text x="744.8" y="1216.5" font-size="22" text-anchor="middle" fill="#000">-61.20</text>
<text x="1113.8" y="1216.5" font-size="22" text-anchor="middle" fill="#000">-60.94</text>
<text x="1480.8" y="1216.5" font-size="22" text-anchor="middle" fill="#000">-60.67</text>
<text x="309.5" y="1241.5" font-size="22" text-anchor="end" fill="#000">PdLon (deg)</text>
<text x="377.8" y="1241.5" font-size="22" text-anchor="middle" fill="#000">50.97</text>
<text x="744.8" y="1241.5" font-size="22" text-anchor="middle" fill="#000">50.87</text>
<text x="1113.8" y="1241.5" font-size="22" text-anchor="middle" fill="#000">50.77</text>
<text x="1480.8" y="1241.5" font-size="22" text-anchor="middle" fill="#000">50.66</text>
<text x="309.5" y="1269.0" font-size="22" text-anchor="end" fill="#000">LST (hr)</text>
<text x="377.8" y="1269.0" font-size="22" text-anchor="middle" fill="#000">20.50</text>
<text x="744.8" y="1269.0" font-size="22" text-anchor="middle" fill="#000">20.55</text>
<text x="1113.8" y="1269.0" font-size="22" text-anchor="middle" fill="#000">20.60</text>
<text x="1480.8" y="1269.0" font-size="22" text-anchor="middle" fill="#000">20.64</text>
<text x="309.5" y="1297.0" font-size="22" text-anchor="end" fill="#000">F10.7 (sfu)</text>
<text x="377.8" y="1297.0" font-size="22" text-anchor="middle" fill="#000">93.99</text>
<text x="744.8" y="1297.0" font-size="22" text-anchor="middle" fill="#000">93.99</text>
<text x="1113.8" y="1297.0" font-size="22" text-anchor="middle" fill="#000">93.99</text>
<text x="1480.8" y="1297.0" font-size="22" text-anchor="middle" fill="#000">93.99</text>
<text x="309.5" y="1324.4" font-size="22" text-anchor="end" fill="#000">M-E Ang (deg)</text>
<text x="377.8" y="1324.4" font-size="22" text-anchor="middle" fill="#000">42.49</text>
<text x="744.8" y="1324.4" font-size="22" text-anchor="middle" fill="#000">42.49</text>
<text x="1113.8" y="1324.4" font-size="22" text-anchor="middle" fill="#000">42.49</text>
<text x="1480.8" y="1324.4" font-size="22" text-anchor="middle" fill="#000">42.49</text>
<text x="309.5" y="1349.7" font-size="22" text-anchor="end" fill="#000">X-rays (W/m**2)</text>
<text x="377.8" y="1349.7" font-size="22" text-anchor="middle" fill="#000">1.8e-07</text>
<text x="744.8" y="1349.7" font-size="22" text-anchor="middle" fill="#000">1.9e-07</text>
<text x="1113.8" y="1349.7" font-size="22" text-anchor="middle" fill="#000">2.0e-07</text>
<text x="1480.8" y="1349.7" font-size="22" text-anchor="middle" fill="#000">2.2e-07</text>
<text x="309.5" y="1377.4" font-size="22" text-anchor="end" fill="#000">MSOX (km)</text>
<text x="377.8" y="1377.4" font-size="22" text-anchor="middle" fill="#000">-2550.62</text>
<text x="744.8" y="1377.4" font-size="22" text-anchor="middle" fill="#000">-2595.96</text>
<text x="1113.8" y="1377.4" font-size="22" text-anchor="middle" fill="#000">-2640.82</text>
<text x="1480.8" y="1377.4" font-size="22" text-anchor="middle" fill="#000">-2685.36</text>
<text x="309.5" y="1405.5" font-size="22" text-anchor="end" fill="#000">MSOY (km)</text>
<text x="377.8" y="1405.5" font-size="22" text-anchor="middle" fill="#000">3315.66</text>
<text x="744.8" y="1405.5" font-size="22" text-anchor="middle" fill="#000">3291.94</text>
<text x="1113.8" y="1405.5" font-size="22" text-anchor="middle" fill="#000">3268.31</text>
<text x="1480.8" y="1405.5" font-size="22" text-anchor="middle" fill="#000">3244.71</text>
<text x="309.5" y="1433.0" font-size="22" text-anchor="end" fill="#000">MSOZ (km)</text>
<text x="377.8" y="1433.0" font-size="22" text-anchor="middle" fill="#000">-1.1e+04</text>
<text x="744.8" y="1433.0" font-size="22" text-anchor="middle" fill="#000">-1.1e+04</text>
<text x="1113.8" y="1433.0" font-size="22" text-anchor="middle" fill="#000">-1.1e+04</text>
<text x="1480.8" y="1433.0" font-size="22" text-anchor="middle" fill="#000">-1.1e+04</text>
<rect x="1691.8" y="214.8" width="77.7" height="251.7" fill="url(#cb)" stroke="#000" stroke-width="2.8"/>
<rect x="1693.7" y="216.7" width="73.9" height="247.9" fill="none" stroke="#f6dcf2" stroke-width="1"/>
<rect x="1762.1" y="428.8" width="6" height="2" fill="#000" shape-rendering="crispEdges"/>
<rect x="1762.1" y="406.5" width="6" height="2" fill="#000" shape-rendering="crispEdges"/>
<rect x="1762.1" y="390.7" width="6" height="2" fill="#000" shape-rendering="crispEdges"/>
<rect x="1762.1" y="378.4" width="6" height="2" fill="#000" shape-rendering="crispEdges"/>
<rect x="1762.1" y="368.4" width="6" height="2" fill="#000" shape-rendering="crispEdges"/>
<rect x="1762.1" y="359.9" width="6" height="2" fill="#000" shape-rendering="crispEdges"/>
<rect x="1762.1" y="352.5" width="6" height="2" fill="#000" shape-rendering="crispEdges"/>
<rect x="1762.1" y="346.0" width="6" height="2" fill="#000" shape-rendering="crispEdges"/>
<rect x="1757.1" y="340.2" width="11" height="2.4" fill="#000" shape-rendering="crispEdges"/>
<rect x="1762.1" y="302.1" width="6" height="2" fill="#000" shape-rendering="crispEdges"/>
<rect x="1762.1" y="279.8" width="6" height="2" fill="#000" shape-rendering="crispEdges"/>
<rect x="1762.1" y="263.9" width="6" height="2" fill="#000" shape-rendering="crispEdges"/>
<rect x="1762.1" y="251.7" width="6" height="2" fill="#000" shape-rendering="crispEdges"/>
<rect x="1762.1" y="241.6" width="6" height="2" fill="#000" shape-rendering="crispEdges"/>
<rect x="1762.1" y="233.1" width="6" height="2" fill="#000" shape-rendering="crispEdges"/>
<rect x="1762.1" y="225.8" width="6" height="2" fill="#000" shape-rendering="crispEdges"/>
<rect x="1762.1" y="219.3" width="6" height="2" fill="#000" shape-rendering="crispEdges"/>
<text x="1730.7" y="207.8" font-size="18.5" text-anchor="middle" fill="#000">DEF</text>
<text x="1781.3" y="216.3" font-size="13">10</text>
<text x="1796" y="211.1" font-size="8">-4</text>
<text x="1781.3" y="344.2" font-size="13">10</text>
<text x="1796" y="339.0" font-size="8">-5</text>
<text x="1781.3" y="468.6" font-size="13">10</text>
<text x="1796" y="463.4" font-size="8">-6</text>
<text x="1847.5" y="341.2" font-size="19.4" text-anchor="middle" fill="#000" transform="rotate(90 1847.5 341.2)">ergs/(cm**2-sr-sec-eV)</text>
<rect x="1691.8" y="566.7" width="77.7" height="249.5" fill="url(#cb)" stroke="#000" stroke-width="2.8"/>
<rect x="1693.7" y="568.6" width="73.9" height="245.7" fill="none" stroke="#f6dcf2" stroke-width="1"/>
<rect x="1762.1" y="778.9" width="6" height="2" fill="#000" shape-rendering="crispEdges"/>
<rect x="1762.1" y="756.7" width="6" height="2" fill="#000" shape-rendering="crispEdges"/>
<rect x="1762.1" y="741.1" width="6" height="2" fill="#000" shape-rendering="crispEdges"/>
<rect x="1762.1" y="728.9" width="6" height="2" fill="#000" shape-rendering="crispEdges"/>
<rect x="1762.1" y="718.9" width="6" height="2" fill="#000" shape-rendering="crispEdges"/>
<rect x="1762.1" y="710.5" width="6" height="2" fill="#000" shape-rendering="crispEdges"/>
<rect x="1762.1" y="703.2" width="6" height="2" fill="#000" shape-rendering="crispEdges"/>
<rect x="1762.1" y="696.8" width="6" height="2" fill="#000" shape-rendering="crispEdges"/>
<rect x="1757.1" y="691.1" width="11" height="2.4" fill="#000" shape-rendering="crispEdges"/>
<rect x="1762.1" y="653.2" width="6" height="2" fill="#000" shape-rendering="crispEdges"/>
<rect x="1762.1" y="631.1" width="6" height="2" fill="#000" shape-rendering="crispEdges"/>
<rect x="1762.1" y="615.4" width="6" height="2" fill="#000" shape-rendering="crispEdges"/>
<rect x="1762.1" y="603.2" width="6" height="2" fill="#000" shape-rendering="crispEdges"/>
<rect x="1762.1" y="593.3" width="6" height="2" fill="#000" shape-rendering="crispEdges"/>
<rect x="1762.1" y="584.9" width="6" height="2" fill="#000" shape-rendering="crispEdges"/>
<rect x="1762.1" y="577.6" width="6" height="2" fill="#000" shape-rendering="crispEdges"/>
<rect x="1762.1" y="571.1" width="6" height="2" fill="#000" shape-rendering="crispEdges"/>
<text x="1730.7" y="560.5" font-size="18.5" text-anchor="middle" fill="#000">DEF</text>
<text x="1781.3" y="568.2" font-size="13">10</text>
<text x="1796" y="563.0" font-size="8">-5</text>
<text x="1781.3" y="693.8" font-size="13">10</text>
<text x="1796" y="688.6" font-size="8">-6</text>
<text x="1781.3" y="818.3" font-size="13">10</text>
<text x="1796" y="813.1" font-size="8">-7</text>
<text x="1847.5" y="692.1" font-size="19.4" text-anchor="middle" fill="#000" transform="rotate(90 1847.5 692.1)">ergs/(cm**2-sr-sec-eV)</text>
</g>
</svg>
</body></html>
